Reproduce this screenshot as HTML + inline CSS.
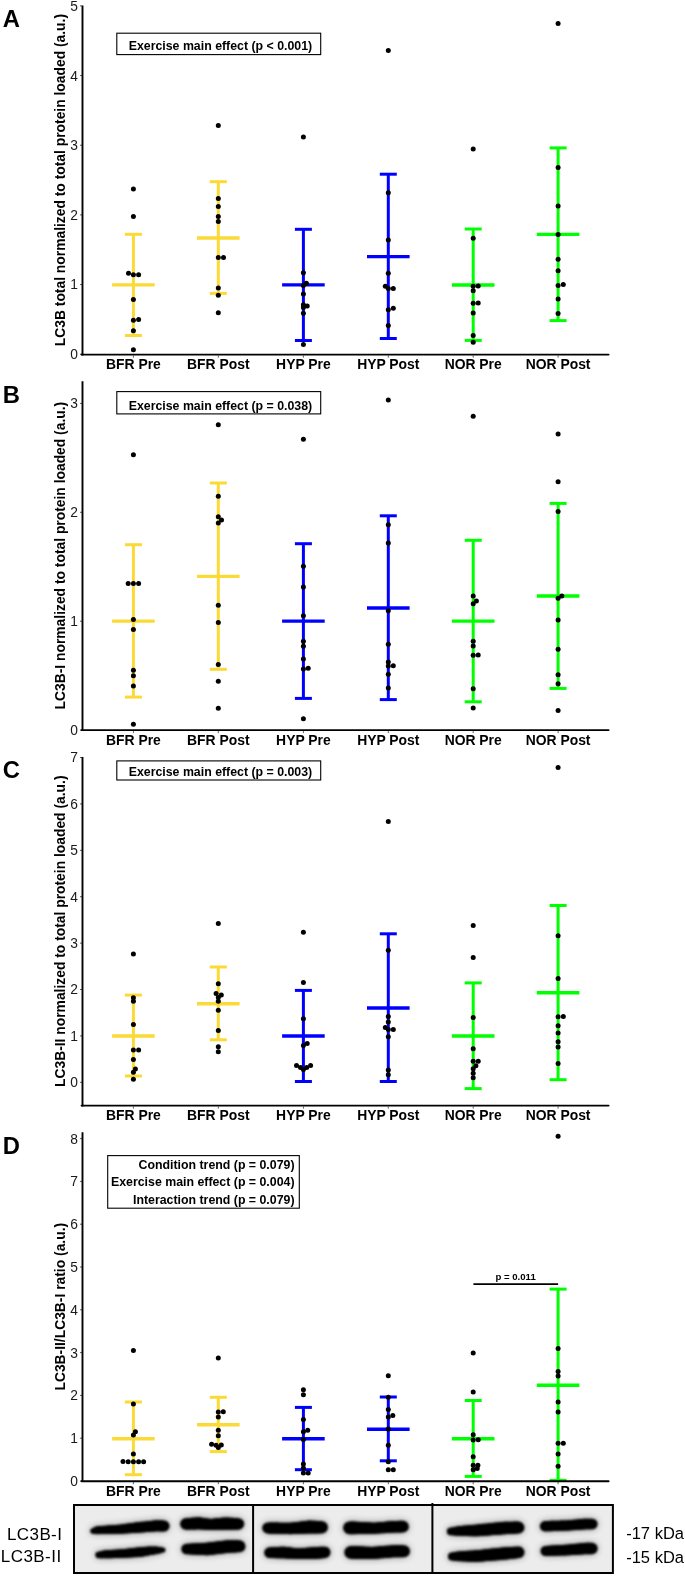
<!DOCTYPE html><html><head><meta charset="utf-8"><title>LC3B</title><style>html,body{margin:0;padding:0;background:#fff;}svg{display:block;will-change:transform;}text{font-family:"Liberation Sans",sans-serif;}</style></head><body>
<svg width="685" height="1579" viewBox="0 0 685 1579">
<defs><filter id="blur1" filterUnits="userSpaceOnUse" x="60" y="1495" width="570" height="84"><feGaussianBlur stdDeviation="0.9"/></filter><filter id="blur3" filterUnits="userSpaceOnUse" x="60" y="1495" width="570" height="84"><feGaussianBlur stdDeviation="3.5"/></filter></defs>
<rect width="685" height="1579" fill="#fff"/>
<text x="2.7" y="27.4" font-size="23.8" font-weight="bold" fill="#000">A</text>
<text transform="translate(64.8,180.1) rotate(-90)" text-anchor="middle" font-size="13.85" font-weight="bold" fill="#000">LC3B total normalized to total protein loaded (a.u.)</text>
<line x1="80.0" y1="354.2" x2="82" y2="354.2" stroke="#333" stroke-width="0.8"/>
<text x="77.9" y="359.15" text-anchor="end" font-size="13.8" fill="#1a1a1a">0</text>
<line x1="80.0" y1="284.54" x2="82" y2="284.54" stroke="#333" stroke-width="0.8"/>
<text x="77.9" y="289.49" text-anchor="end" font-size="13.8" fill="#1a1a1a">1</text>
<line x1="80.0" y1="214.88" x2="82" y2="214.88" stroke="#333" stroke-width="0.8"/>
<text x="77.9" y="219.83" text-anchor="end" font-size="13.8" fill="#1a1a1a">2</text>
<line x1="80.0" y1="145.22" x2="82" y2="145.22" stroke="#333" stroke-width="0.8"/>
<text x="77.9" y="150.17" text-anchor="end" font-size="13.8" fill="#1a1a1a">3</text>
<line x1="80.0" y1="75.56" x2="82" y2="75.56" stroke="#333" stroke-width="0.8"/>
<text x="77.9" y="80.51" text-anchor="end" font-size="13.8" fill="#1a1a1a">4</text>
<line x1="80.0" y1="5.9" x2="82" y2="5.9" stroke="#333" stroke-width="0.8"/>
<text x="77.9" y="10.85" text-anchor="end" font-size="13.8" fill="#1a1a1a">5</text>
<line x1="133.4" y1="355.6" x2="133.4" y2="357.6" stroke="#333" stroke-width="0.8"/>
<text x="133.4" y="369" text-anchor="middle" font-size="13.9" font-weight="bold" fill="#000">BFR Pre</text>
<line x1="218.3" y1="355.6" x2="218.3" y2="357.6" stroke="#333" stroke-width="0.8"/>
<text x="218.3" y="369" text-anchor="middle" font-size="13.9" font-weight="bold" fill="#000">BFR Post</text>
<line x1="303.4" y1="355.6" x2="303.4" y2="357.6" stroke="#333" stroke-width="0.8"/>
<text x="303.4" y="369" text-anchor="middle" font-size="13.9" font-weight="bold" fill="#000">HYP Pre</text>
<line x1="388.3" y1="355.6" x2="388.3" y2="357.6" stroke="#333" stroke-width="0.8"/>
<text x="388.3" y="369" text-anchor="middle" font-size="13.9" font-weight="bold" fill="#000">HYP Post</text>
<line x1="473.2" y1="355.6" x2="473.2" y2="357.6" stroke="#333" stroke-width="0.8"/>
<text x="473.2" y="369" text-anchor="middle" font-size="13.9" font-weight="bold" fill="#000">NOR Pre</text>
<line x1="558.1" y1="355.6" x2="558.1" y2="357.6" stroke="#333" stroke-width="0.8"/>
<text x="558.1" y="369" text-anchor="middle" font-size="13.9" font-weight="bold" fill="#000">NOR Post</text>
<rect x="116.8" y="33.2" width="203.9" height="21.4" fill="#fff" stroke="#000" stroke-width="1.1"/>
<text x="220.45" y="49.8" text-anchor="middle" font-size="12.35" font-weight="bold" fill="#000">Exercise main effect (p &lt; 0.001)</text>
<g stroke="#FBDA35" stroke-width="3" fill="none">
<line x1="133.4" y1="234.3" x2="133.4" y2="335.5"/>
<line x1="124.9" y1="234.3" x2="141.9" y2="234.3"/>
<line x1="124.9" y1="335.5" x2="141.9" y2="335.5"/>
<line x1="112.1" y1="284.9" x2="154.7" y2="284.9" stroke-width="3.4"/>
</g>
<g fill="#000">
<circle cx="133.4" cy="188.9" r="2.5"/>
<circle cx="133.4" cy="216.4" r="2.5"/>
<circle cx="128.5" cy="273.3" r="2.5"/>
<circle cx="133.4" cy="274.7" r="2.5"/>
<circle cx="138.6" cy="274.7" r="2.5"/>
<circle cx="133.4" cy="299.6" r="2.5"/>
<circle cx="133.4" cy="320.2" r="2.5"/>
<circle cx="138.6" cy="319.4" r="2.5"/>
<circle cx="133.4" cy="330.8" r="2.5"/>
<circle cx="133.4" cy="349.7" r="2.5"/>
</g>
<g stroke="#FBDA35" stroke-width="3" fill="none">
<line x1="218.3" y1="181.7" x2="218.3" y2="293.4"/>
<line x1="209.8" y1="181.7" x2="226.8" y2="181.7"/>
<line x1="209.8" y1="293.4" x2="226.8" y2="293.4"/>
<line x1="197" y1="238" x2="239.6" y2="238" stroke-width="3.4"/>
</g>
<g fill="#000">
<circle cx="218.3" cy="125.4" r="2.5"/>
<circle cx="218.3" cy="198.5" r="2.5"/>
<circle cx="218.3" cy="206.5" r="2.5"/>
<circle cx="218.3" cy="216.4" r="2.5"/>
<circle cx="218.3" cy="221.4" r="2.5"/>
<circle cx="218.3" cy="257.6" r="2.5"/>
<circle cx="223.5" cy="257.4" r="2.5"/>
<circle cx="218.3" cy="288.1" r="2.5"/>
<circle cx="218.3" cy="295.3" r="2.5"/>
<circle cx="218.3" cy="312.7" r="2.5"/>
</g>
<g stroke="#0000FF" stroke-width="3" fill="none">
<line x1="303.4" y1="229.3" x2="303.4" y2="340.5"/>
<line x1="294.9" y1="229.3" x2="311.9" y2="229.3"/>
<line x1="294.9" y1="340.5" x2="311.9" y2="340.5"/>
<line x1="282.1" y1="284.9" x2="324.7" y2="284.9" stroke-width="3.4"/>
</g>
<g fill="#000">
<circle cx="303.4" cy="137" r="2.5"/>
<circle cx="303.4" cy="272.8" r="2.5"/>
<circle cx="303.4" cy="285.4" r="2.5"/>
<circle cx="306.4" cy="283.2" r="2.5"/>
<circle cx="303.4" cy="294.1" r="2.5"/>
<circle cx="303.4" cy="304.8" r="2.5"/>
<circle cx="307.2" cy="306" r="2.5"/>
<circle cx="303.4" cy="313.2" r="2.5"/>
<circle cx="303.4" cy="344.5" r="2.5"/>
<circle cx="303.4" cy="307.5" r="2.5"/>
</g>
<g stroke="#0000FF" stroke-width="3" fill="none">
<line x1="388.3" y1="174.2" x2="388.3" y2="338.5"/>
<line x1="379.8" y1="174.2" x2="396.8" y2="174.2"/>
<line x1="379.8" y1="338.5" x2="396.8" y2="338.5"/>
<line x1="367" y1="256.6" x2="409.6" y2="256.6" stroke-width="3.4"/>
</g>
<g fill="#000">
<circle cx="388.3" cy="50.4" r="2.5"/>
<circle cx="388.3" cy="192.8" r="2.5"/>
<circle cx="388.3" cy="240" r="2.5"/>
<circle cx="388.3" cy="273.2" r="2.5"/>
<circle cx="385.3" cy="286.2" r="2.5"/>
<circle cx="388.3" cy="288.6" r="2.5"/>
<circle cx="393.3" cy="288.4" r="2.5"/>
<circle cx="388.3" cy="309.7" r="2.5"/>
<circle cx="393.3" cy="308.2" r="2.5"/>
<circle cx="388.3" cy="325.6" r="2.5"/>
</g>
<g stroke="#00FF00" stroke-width="3" fill="none">
<line x1="473.2" y1="229" x2="473.2" y2="340.4"/>
<line x1="464.7" y1="229" x2="481.7" y2="229"/>
<line x1="464.7" y1="340.4" x2="481.7" y2="340.4"/>
<line x1="451.9" y1="285" x2="494.5" y2="285" stroke-width="3.4"/>
</g>
<g fill="#000">
<circle cx="473.2" cy="148.9" r="2.5"/>
<circle cx="473.2" cy="238.2" r="2.5"/>
<circle cx="473.2" cy="286.3" r="2.5"/>
<circle cx="478.2" cy="286.1" r="2.5"/>
<circle cx="473.2" cy="290.8" r="2.5"/>
<circle cx="473.2" cy="303.2" r="2.5"/>
<circle cx="478.2" cy="303" r="2.5"/>
<circle cx="473.2" cy="312.9" r="2.5"/>
<circle cx="473.2" cy="335.5" r="2.5"/>
<circle cx="473.2" cy="342.2" r="2.5"/>
</g>
<g stroke="#00FF00" stroke-width="3" fill="none">
<line x1="558.1" y1="147.9" x2="558.1" y2="320.6"/>
<line x1="549.6" y1="147.9" x2="566.6" y2="147.9"/>
<line x1="549.6" y1="320.6" x2="566.6" y2="320.6"/>
<line x1="536.8" y1="234.4" x2="579.4" y2="234.4" stroke-width="3.4"/>
</g>
<g fill="#000">
<circle cx="558.1" cy="23.6" r="2.5"/>
<circle cx="558.1" cy="167.5" r="2.5"/>
<circle cx="558.1" cy="205.9" r="2.5"/>
<circle cx="558.1" cy="234.5" r="2.5"/>
<circle cx="558.1" cy="259.3" r="2.5"/>
<circle cx="558.1" cy="270.7" r="2.5"/>
<circle cx="558.1" cy="285.6" r="2.5"/>
<circle cx="563.3" cy="284.6" r="2.5"/>
<circle cx="558.1" cy="299" r="2.5"/>
<circle cx="558.1" cy="313.4" r="2.5"/>
</g>
<line x1="82.5" y1="5.6" x2="82.5" y2="355.5" stroke="#000" stroke-width="1.9"/>
<line x1="81.55" y1="354.6" x2="608.6" y2="354.6" stroke="#000" stroke-width="1.9" stroke-linecap="round"/>
<text x="2.7" y="402.6" font-size="23.8" font-weight="bold" fill="#000">B</text>
<text transform="translate(64.8,555.65) rotate(-90)" text-anchor="middle" font-size="13.85" font-weight="bold" fill="#000">LC3B-I normalized to total protein loaded (a.u.)</text>
<line x1="80.0" y1="730.1" x2="82" y2="730.1" stroke="#333" stroke-width="0.8"/>
<text x="77.9" y="735.05" text-anchor="end" font-size="13.8" fill="#1a1a1a">0</text>
<line x1="80.0" y1="621.2" x2="82" y2="621.2" stroke="#333" stroke-width="0.8"/>
<text x="77.9" y="626.15" text-anchor="end" font-size="13.8" fill="#1a1a1a">1</text>
<line x1="80.0" y1="512.3" x2="82" y2="512.3" stroke="#333" stroke-width="0.8"/>
<text x="77.9" y="517.25" text-anchor="end" font-size="13.8" fill="#1a1a1a">2</text>
<line x1="80.0" y1="403.4" x2="82" y2="403.4" stroke="#333" stroke-width="0.8"/>
<text x="77.9" y="408.35" text-anchor="end" font-size="13.8" fill="#1a1a1a">3</text>
<line x1="133.4" y1="731.1" x2="133.4" y2="733.1" stroke="#333" stroke-width="0.8"/>
<text x="133.4" y="744.5" text-anchor="middle" font-size="13.9" font-weight="bold" fill="#000">BFR Pre</text>
<line x1="218.3" y1="731.1" x2="218.3" y2="733.1" stroke="#333" stroke-width="0.8"/>
<text x="218.3" y="744.5" text-anchor="middle" font-size="13.9" font-weight="bold" fill="#000">BFR Post</text>
<line x1="303.4" y1="731.1" x2="303.4" y2="733.1" stroke="#333" stroke-width="0.8"/>
<text x="303.4" y="744.5" text-anchor="middle" font-size="13.9" font-weight="bold" fill="#000">HYP Pre</text>
<line x1="388.3" y1="731.1" x2="388.3" y2="733.1" stroke="#333" stroke-width="0.8"/>
<text x="388.3" y="744.5" text-anchor="middle" font-size="13.9" font-weight="bold" fill="#000">HYP Post</text>
<line x1="473.2" y1="731.1" x2="473.2" y2="733.1" stroke="#333" stroke-width="0.8"/>
<text x="473.2" y="744.5" text-anchor="middle" font-size="13.9" font-weight="bold" fill="#000">NOR Pre</text>
<line x1="558.1" y1="731.1" x2="558.1" y2="733.1" stroke="#333" stroke-width="0.8"/>
<text x="558.1" y="744.5" text-anchor="middle" font-size="13.9" font-weight="bold" fill="#000">NOR Post</text>
<rect x="116.8" y="391.6" width="203.9" height="22.3" fill="#fff" stroke="#000" stroke-width="1.1"/>
<text x="220.45" y="409.6" text-anchor="middle" font-size="12.35" font-weight="bold" fill="#000">Exercise main effect (p = 0.038)</text>
<g stroke="#FBDA35" stroke-width="3" fill="none">
<line x1="133.4" y1="544.7" x2="133.4" y2="697.1"/>
<line x1="124.9" y1="544.7" x2="141.9" y2="544.7"/>
<line x1="124.9" y1="697.1" x2="141.9" y2="697.1"/>
<line x1="112.1" y1="621.1" x2="154.7" y2="621.1" stroke-width="3.4"/>
</g>
<g fill="#000">
<circle cx="133.4" cy="454.7" r="2.5"/>
<circle cx="128.2" cy="583.4" r="2.5"/>
<circle cx="133.4" cy="583.4" r="2.5"/>
<circle cx="138.6" cy="583.4" r="2.5"/>
<circle cx="133.4" cy="619.4" r="2.5"/>
<circle cx="133.4" cy="629.6" r="2.5"/>
<circle cx="133.4" cy="670.3" r="2.5"/>
<circle cx="133.4" cy="675.8" r="2.5"/>
<circle cx="133.4" cy="686" r="2.5"/>
<circle cx="133.4" cy="724.2" r="2.5"/>
</g>
<g stroke="#FBDA35" stroke-width="3" fill="none">
<line x1="218.3" y1="483" x2="218.3" y2="669.3"/>
<line x1="209.8" y1="483" x2="226.8" y2="483"/>
<line x1="209.8" y1="669.3" x2="226.8" y2="669.3"/>
<line x1="197" y1="576.4" x2="239.6" y2="576.4" stroke-width="3.4"/>
</g>
<g fill="#000">
<circle cx="218.3" cy="424.7" r="2.5"/>
<circle cx="218.3" cy="496.2" r="2.5"/>
<circle cx="218.3" cy="516.8" r="2.5"/>
<circle cx="221.5" cy="520" r="2.5"/>
<circle cx="218.3" cy="523" r="2.5"/>
<circle cx="218.3" cy="605.3" r="2.5"/>
<circle cx="218.3" cy="622.4" r="2.5"/>
<circle cx="218.3" cy="664.6" r="2.5"/>
<circle cx="218.3" cy="681.2" r="2.5"/>
<circle cx="218.3" cy="708.3" r="2.5"/>
</g>
<g stroke="#0000FF" stroke-width="3" fill="none">
<line x1="303.4" y1="543.7" x2="303.4" y2="698.4"/>
<line x1="294.9" y1="543.7" x2="311.9" y2="543.7"/>
<line x1="294.9" y1="698.4" x2="311.9" y2="698.4"/>
<line x1="282.1" y1="621.1" x2="324.7" y2="621.1" stroke-width="3.4"/>
</g>
<g fill="#000">
<circle cx="303.4" cy="439.3" r="2.5"/>
<circle cx="303.4" cy="566.3" r="2.5"/>
<circle cx="303.4" cy="586.9" r="2.5"/>
<circle cx="303.4" cy="615.7" r="2.5"/>
<circle cx="303.4" cy="641.3" r="2.5"/>
<circle cx="303.4" cy="646.2" r="2.5"/>
<circle cx="303.4" cy="659.1" r="2.5"/>
<circle cx="303.4" cy="669.1" r="2.5"/>
<circle cx="308.2" cy="668.3" r="2.5"/>
<circle cx="303.4" cy="718.7" r="2.5"/>
</g>
<g stroke="#0000FF" stroke-width="3" fill="none">
<line x1="388.3" y1="515.8" x2="388.3" y2="699.6"/>
<line x1="379.8" y1="515.8" x2="396.8" y2="515.8"/>
<line x1="379.8" y1="699.6" x2="396.8" y2="699.6"/>
<line x1="367" y1="608" x2="409.6" y2="608" stroke-width="3.4"/>
</g>
<g fill="#000">
<circle cx="388.3" cy="400.1" r="2.5"/>
<circle cx="388.3" cy="524.7" r="2.5"/>
<circle cx="388.3" cy="543.1" r="2.5"/>
<circle cx="388.3" cy="610.7" r="2.5"/>
<circle cx="388.3" cy="644.2" r="2.5"/>
<circle cx="388.3" cy="662.1" r="2.5"/>
<circle cx="388.3" cy="666.1" r="2.5"/>
<circle cx="393.3" cy="665.8" r="2.5"/>
<circle cx="388.3" cy="674.3" r="2.5"/>
<circle cx="388.3" cy="687.9" r="2.5"/>
</g>
<g stroke="#00FF00" stroke-width="3" fill="none">
<line x1="473.2" y1="540.3" x2="473.2" y2="701.8"/>
<line x1="464.7" y1="540.3" x2="481.7" y2="540.3"/>
<line x1="464.7" y1="701.8" x2="481.7" y2="701.8"/>
<line x1="451.9" y1="621.1" x2="494.5" y2="621.1" stroke-width="3.4"/>
</g>
<g fill="#000">
<circle cx="473.2" cy="416.2" r="2.5"/>
<circle cx="473.2" cy="596.1" r="2.5"/>
<circle cx="473.2" cy="603.8" r="2.5"/>
<circle cx="476.4" cy="601.1" r="2.5"/>
<circle cx="473.2" cy="641.3" r="2.5"/>
<circle cx="473.2" cy="646" r="2.5"/>
<circle cx="473.2" cy="655.2" r="2.5"/>
<circle cx="478.2" cy="654.9" r="2.5"/>
<circle cx="473.2" cy="688.7" r="2.5"/>
<circle cx="473.2" cy="708" r="2.5"/>
</g>
<g stroke="#00FF00" stroke-width="3" fill="none">
<line x1="558.1" y1="503.4" x2="558.1" y2="688.4"/>
<line x1="549.6" y1="503.4" x2="566.6" y2="503.4"/>
<line x1="549.6" y1="688.4" x2="566.6" y2="688.4"/>
<line x1="536.8" y1="596" x2="579.4" y2="596" stroke-width="3.4"/>
</g>
<g fill="#000">
<circle cx="558.1" cy="433.9" r="2.5"/>
<circle cx="558.1" cy="481.8" r="2.5"/>
<circle cx="558.1" cy="511.5" r="2.5"/>
<circle cx="558.1" cy="598.3" r="2.5"/>
<circle cx="561.8" cy="596.1" r="2.5"/>
<circle cx="558.1" cy="619.9" r="2.5"/>
<circle cx="558.1" cy="649.2" r="2.5"/>
<circle cx="558.1" cy="674.8" r="2.5"/>
<circle cx="558.1" cy="683.7" r="2.5"/>
<circle cx="558.1" cy="710.5" r="2.5"/>
</g>
<line x1="82.5" y1="381.2" x2="82.5" y2="731" stroke="#000" stroke-width="1.9"/>
<line x1="81.55" y1="730.1" x2="608.6" y2="730.1" stroke="#000" stroke-width="1.9" stroke-linecap="round"/>
<text x="2.7" y="777.9" font-size="23.8" font-weight="bold" fill="#000">C</text>
<text transform="translate(64.8,931.25) rotate(-90)" text-anchor="middle" font-size="13.85" font-weight="bold" fill="#000">LC3B-II normalized to total protein loaded (a.u.)</text>
<line x1="80.0" y1="1082.3" x2="82" y2="1082.3" stroke="#333" stroke-width="0.8"/>
<text x="77.9" y="1087.25" text-anchor="end" font-size="13.8" fill="#1a1a1a">0</text>
<line x1="80.0" y1="1035.9" x2="82" y2="1035.9" stroke="#333" stroke-width="0.8"/>
<text x="77.9" y="1040.85" text-anchor="end" font-size="13.8" fill="#1a1a1a">1</text>
<line x1="80.0" y1="989.5" x2="82" y2="989.5" stroke="#333" stroke-width="0.8"/>
<text x="77.9" y="994.45" text-anchor="end" font-size="13.8" fill="#1a1a1a">2</text>
<line x1="80.0" y1="943.1" x2="82" y2="943.1" stroke="#333" stroke-width="0.8"/>
<text x="77.9" y="948.05" text-anchor="end" font-size="13.8" fill="#1a1a1a">3</text>
<line x1="80.0" y1="896.7" x2="82" y2="896.7" stroke="#333" stroke-width="0.8"/>
<text x="77.9" y="901.65" text-anchor="end" font-size="13.8" fill="#1a1a1a">4</text>
<line x1="80.0" y1="850.3" x2="82" y2="850.3" stroke="#333" stroke-width="0.8"/>
<text x="77.9" y="855.25" text-anchor="end" font-size="13.8" fill="#1a1a1a">5</text>
<line x1="80.0" y1="803.9" x2="82" y2="803.9" stroke="#333" stroke-width="0.8"/>
<text x="77.9" y="808.85" text-anchor="end" font-size="13.8" fill="#1a1a1a">6</text>
<line x1="80.0" y1="757.5" x2="82" y2="757.5" stroke="#333" stroke-width="0.8"/>
<text x="77.9" y="762.45" text-anchor="end" font-size="13.8" fill="#1a1a1a">7</text>
<line x1="133.4" y1="1106.6" x2="133.4" y2="1108.6" stroke="#333" stroke-width="0.8"/>
<text x="133.4" y="1120" text-anchor="middle" font-size="13.9" font-weight="bold" fill="#000">BFR Pre</text>
<line x1="218.3" y1="1106.6" x2="218.3" y2="1108.6" stroke="#333" stroke-width="0.8"/>
<text x="218.3" y="1120" text-anchor="middle" font-size="13.9" font-weight="bold" fill="#000">BFR Post</text>
<line x1="303.4" y1="1106.6" x2="303.4" y2="1108.6" stroke="#333" stroke-width="0.8"/>
<text x="303.4" y="1120" text-anchor="middle" font-size="13.9" font-weight="bold" fill="#000">HYP Pre</text>
<line x1="388.3" y1="1106.6" x2="388.3" y2="1108.6" stroke="#333" stroke-width="0.8"/>
<text x="388.3" y="1120" text-anchor="middle" font-size="13.9" font-weight="bold" fill="#000">HYP Post</text>
<line x1="473.2" y1="1106.6" x2="473.2" y2="1108.6" stroke="#333" stroke-width="0.8"/>
<text x="473.2" y="1120" text-anchor="middle" font-size="13.9" font-weight="bold" fill="#000">NOR Pre</text>
<line x1="558.1" y1="1106.6" x2="558.1" y2="1108.6" stroke="#333" stroke-width="0.8"/>
<text x="558.1" y="1120" text-anchor="middle" font-size="13.9" font-weight="bold" fill="#000">NOR Post</text>
<rect x="116.8" y="760.9" width="203.9" height="19.1" fill="#fff" stroke="#000" stroke-width="1.1"/>
<text x="220.45" y="775.9" text-anchor="middle" font-size="12.35" font-weight="bold" fill="#000">Exercise main effect (p = 0.003)</text>
<g stroke="#FBDA35" stroke-width="3" fill="none">
<line x1="133.4" y1="995.1" x2="133.4" y2="1076"/>
<line x1="124.9" y1="995.1" x2="141.9" y2="995.1"/>
<line x1="124.9" y1="1076" x2="141.9" y2="1076"/>
<line x1="112.1" y1="1036" x2="154.7" y2="1036" stroke-width="3.4"/>
</g>
<g fill="#000">
<circle cx="133.4" cy="954.1" r="2.5"/>
<circle cx="133.4" cy="997.8" r="2.5"/>
<circle cx="133.4" cy="1001.3" r="2.5"/>
<circle cx="133.4" cy="1024.4" r="2.5"/>
<circle cx="133.4" cy="1050" r="2.5"/>
<circle cx="138.6" cy="1050" r="2.5"/>
<circle cx="133.4" cy="1059.6" r="2.5"/>
<circle cx="135.4" cy="1069" r="2.5"/>
<circle cx="133.4" cy="1072.3" r="2.5"/>
<circle cx="133.4" cy="1079.2" r="2.5"/>
</g>
<g stroke="#FBDA35" stroke-width="3" fill="none">
<line x1="218.3" y1="967" x2="218.3" y2="1039.8"/>
<line x1="209.8" y1="967" x2="226.8" y2="967"/>
<line x1="209.8" y1="1039.8" x2="226.8" y2="1039.8"/>
<line x1="197" y1="1003.7" x2="239.6" y2="1003.7" stroke-width="3.4"/>
</g>
<g fill="#000">
<circle cx="218.3" cy="983.7" r="2.5"/>
<circle cx="218.3" cy="923.4" r="2.5"/>
<circle cx="216.1" cy="993.6" r="2.5"/>
<circle cx="221.3" cy="994.9" r="2.5"/>
<circle cx="218.3" cy="997.6" r="2.5"/>
<circle cx="218.3" cy="1001.3" r="2.5"/>
<circle cx="218.3" cy="1010.2" r="2.5"/>
<circle cx="218.3" cy="1030.6" r="2.5"/>
<circle cx="218.3" cy="1046.7" r="2.5"/>
<circle cx="218.3" cy="1051.7" r="2.5"/>
</g>
<g stroke="#0000FF" stroke-width="3" fill="none">
<line x1="303.4" y1="990.4" x2="303.4" y2="1081.5"/>
<line x1="294.9" y1="990.4" x2="311.9" y2="990.4"/>
<line x1="294.9" y1="1081.5" x2="311.9" y2="1081.5"/>
<line x1="282.1" y1="1036" x2="324.7" y2="1036" stroke-width="3.4"/>
</g>
<g fill="#000">
<circle cx="303.4" cy="932.3" r="2.5"/>
<circle cx="303.4" cy="982.4" r="2.5"/>
<circle cx="303.4" cy="1018.7" r="2.5"/>
<circle cx="303.4" cy="1045.5" r="2.5"/>
<circle cx="307.2" cy="1043.5" r="2.5"/>
<circle cx="296.5" cy="1065.6" r="2.5"/>
<circle cx="300.5" cy="1067.6" r="2.5"/>
<circle cx="303.4" cy="1069.6" r="2.5"/>
<circle cx="306.7" cy="1067.6" r="2.5"/>
<circle cx="310.6" cy="1065.6" r="2.5"/>
</g>
<g stroke="#0000FF" stroke-width="3" fill="none">
<line x1="388.3" y1="933.8" x2="388.3" y2="1081.5"/>
<line x1="379.8" y1="933.8" x2="396.8" y2="933.8"/>
<line x1="379.8" y1="1081.5" x2="396.8" y2="1081.5"/>
<line x1="367" y1="1008" x2="409.6" y2="1008" stroke-width="3.4"/>
</g>
<g fill="#000">
<circle cx="388.3" cy="821.4" r="2.5"/>
<circle cx="388.3" cy="950.2" r="2.5"/>
<circle cx="388.3" cy="1016.4" r="2.5"/>
<circle cx="388.3" cy="1021.9" r="2.5"/>
<circle cx="385.3" cy="1027.6" r="2.5"/>
<circle cx="388.3" cy="1029.4" r="2.5"/>
<circle cx="393.3" cy="1029.4" r="2.5"/>
<circle cx="388.3" cy="1036.8" r="2.5"/>
<circle cx="388.3" cy="1070" r="2.5"/>
<circle cx="388.3" cy="1074.8" r="2.5"/>
</g>
<g stroke="#00FF00" stroke-width="3" fill="none">
<line x1="473.2" y1="982.9" x2="473.2" y2="1088.6"/>
<line x1="464.7" y1="982.9" x2="481.7" y2="982.9"/>
<line x1="464.7" y1="1088.6" x2="481.7" y2="1088.6"/>
<line x1="451.9" y1="1036" x2="494.5" y2="1036" stroke-width="3.4"/>
</g>
<g fill="#000">
<circle cx="473.2" cy="925.6" r="2.5"/>
<circle cx="473.2" cy="957.6" r="2.5"/>
<circle cx="473.2" cy="1017.6" r="2.5"/>
<circle cx="473.2" cy="1048.7" r="2.5"/>
<circle cx="473.2" cy="1061.3" r="2.5"/>
<circle cx="478.2" cy="1061.3" r="2.5"/>
<circle cx="475.9" cy="1065.8" r="2.5"/>
<circle cx="473.2" cy="1068.8" r="2.5"/>
<circle cx="473.2" cy="1073.2" r="2.5"/>
<circle cx="473.2" cy="1077.7" r="2.5"/>
</g>
<g stroke="#00FF00" stroke-width="3" fill="none">
<line x1="558.1" y1="905.5" x2="558.1" y2="1079.7"/>
<line x1="549.6" y1="905.5" x2="566.6" y2="905.5"/>
<line x1="549.6" y1="1079.7" x2="566.6" y2="1079.7"/>
<line x1="536.8" y1="992.8" x2="579.4" y2="992.8" stroke-width="3.4"/>
</g>
<g fill="#000">
<circle cx="558.1" cy="767.5" r="2.5"/>
<circle cx="558.1" cy="935.7" r="2.5"/>
<circle cx="558.1" cy="978.4" r="2.5"/>
<circle cx="558.1" cy="1016.7" r="2.5"/>
<circle cx="563.3" cy="1016.4" r="2.5"/>
<circle cx="558.1" cy="1025.8" r="2.5"/>
<circle cx="558.1" cy="1033" r="2.5"/>
<circle cx="558.1" cy="1041.7" r="2.5"/>
<circle cx="558.1" cy="1046.9" r="2.5"/>
<circle cx="558.1" cy="1063.6" r="2.5"/>
</g>
<line x1="82.5" y1="756.9" x2="82.5" y2="1106.5" stroke="#000" stroke-width="1.9"/>
<line x1="81.55" y1="1105.6" x2="608.6" y2="1105.6" stroke="#000" stroke-width="1.9" stroke-linecap="round"/>
<text x="2.7" y="1153.8" font-size="23.8" font-weight="bold" fill="#000">D</text>
<text transform="translate(64.8,1306.75) rotate(-90)" text-anchor="middle" font-size="13.85" font-weight="bold" fill="#000">LC3B-II/LC3B-I ratio (a.u.)</text>
<line x1="80.0" y1="1481" x2="82" y2="1481" stroke="#333" stroke-width="0.8"/>
<text x="77.9" y="1485.95" text-anchor="end" font-size="13.8" fill="#1a1a1a">0</text>
<line x1="80.0" y1="1438.2" x2="82" y2="1438.2" stroke="#333" stroke-width="0.8"/>
<text x="77.9" y="1443.15" text-anchor="end" font-size="13.8" fill="#1a1a1a">1</text>
<line x1="80.0" y1="1395.4" x2="82" y2="1395.4" stroke="#333" stroke-width="0.8"/>
<text x="77.9" y="1400.35" text-anchor="end" font-size="13.8" fill="#1a1a1a">2</text>
<line x1="80.0" y1="1352.6" x2="82" y2="1352.6" stroke="#333" stroke-width="0.8"/>
<text x="77.9" y="1357.55" text-anchor="end" font-size="13.8" fill="#1a1a1a">3</text>
<line x1="80.0" y1="1309.8" x2="82" y2="1309.8" stroke="#333" stroke-width="0.8"/>
<text x="77.9" y="1314.75" text-anchor="end" font-size="13.8" fill="#1a1a1a">4</text>
<line x1="80.0" y1="1267" x2="82" y2="1267" stroke="#333" stroke-width="0.8"/>
<text x="77.9" y="1271.95" text-anchor="end" font-size="13.8" fill="#1a1a1a">5</text>
<line x1="80.0" y1="1224.2" x2="82" y2="1224.2" stroke="#333" stroke-width="0.8"/>
<text x="77.9" y="1229.15" text-anchor="end" font-size="13.8" fill="#1a1a1a">6</text>
<line x1="80.0" y1="1181.4" x2="82" y2="1181.4" stroke="#333" stroke-width="0.8"/>
<text x="77.9" y="1186.35" text-anchor="end" font-size="13.8" fill="#1a1a1a">7</text>
<line x1="80.0" y1="1138.6" x2="82" y2="1138.6" stroke="#333" stroke-width="0.8"/>
<text x="77.9" y="1143.55" text-anchor="end" font-size="13.8" fill="#1a1a1a">8</text>
<line x1="133.4" y1="1482.2" x2="133.4" y2="1484.2" stroke="#333" stroke-width="0.8"/>
<text x="133.4" y="1495.6" text-anchor="middle" font-size="13.9" font-weight="bold" fill="#000">BFR Pre</text>
<line x1="218.3" y1="1482.2" x2="218.3" y2="1484.2" stroke="#333" stroke-width="0.8"/>
<text x="218.3" y="1495.6" text-anchor="middle" font-size="13.9" font-weight="bold" fill="#000">BFR Post</text>
<line x1="303.4" y1="1482.2" x2="303.4" y2="1484.2" stroke="#333" stroke-width="0.8"/>
<text x="303.4" y="1495.6" text-anchor="middle" font-size="13.9" font-weight="bold" fill="#000">HYP Pre</text>
<line x1="388.3" y1="1482.2" x2="388.3" y2="1484.2" stroke="#333" stroke-width="0.8"/>
<text x="388.3" y="1495.6" text-anchor="middle" font-size="13.9" font-weight="bold" fill="#000">HYP Post</text>
<line x1="473.2" y1="1482.2" x2="473.2" y2="1484.2" stroke="#333" stroke-width="0.8"/>
<text x="473.2" y="1495.6" text-anchor="middle" font-size="13.9" font-weight="bold" fill="#000">NOR Pre</text>
<line x1="558.1" y1="1482.2" x2="558.1" y2="1484.2" stroke="#333" stroke-width="0.8"/>
<text x="558.1" y="1495.6" text-anchor="middle" font-size="13.9" font-weight="bold" fill="#000">NOR Post</text>
<rect x="107.7" y="1155.6" width="191.6" height="52.6" fill="#fff" stroke="#000" stroke-width="1.1"/>
<text x="294.5" y="1168.9" text-anchor="end" font-size="12.35" font-weight="bold" fill="#000">Condition trend (p = 0.079)</text>
<text x="294.5" y="1186.2" text-anchor="end" font-size="12.35" font-weight="bold" fill="#000">Exercise main effect (p = 0.004)</text>
<text x="294.5" y="1203.5" text-anchor="end" font-size="12.35" font-weight="bold" fill="#000">Interaction trend (p = 0.079)</text>
<g stroke="#FBDA35" stroke-width="3" fill="none">
<line x1="133.4" y1="1402" x2="133.4" y2="1474.7"/>
<line x1="124.9" y1="1402" x2="141.9" y2="1402"/>
<line x1="124.9" y1="1474.7" x2="141.9" y2="1474.7"/>
<line x1="112.1" y1="1438.7" x2="154.7" y2="1438.7" stroke-width="3.4"/>
</g>
<g fill="#000">
<circle cx="133.4" cy="1350.4" r="2.5"/>
<circle cx="133.4" cy="1404" r="2.5"/>
<circle cx="135.4" cy="1431.8" r="2.5"/>
<circle cx="133.4" cy="1435" r="2.5"/>
<circle cx="133.4" cy="1454.1" r="2.5"/>
<circle cx="123" cy="1461.5" r="2.5"/>
<circle cx="128.2" cy="1461.8" r="2.5"/>
<circle cx="133.4" cy="1461.8" r="2.5"/>
<circle cx="138.6" cy="1461.8" r="2.5"/>
<circle cx="143.6" cy="1461.8" r="2.5"/>
</g>
<g stroke="#FBDA35" stroke-width="3" fill="none">
<line x1="218.3" y1="1397.3" x2="218.3" y2="1451.6"/>
<line x1="209.8" y1="1397.3" x2="226.8" y2="1397.3"/>
<line x1="209.8" y1="1451.6" x2="226.8" y2="1451.6"/>
<line x1="197" y1="1424.8" x2="239.6" y2="1424.8" stroke-width="3.4"/>
</g>
<g fill="#000">
<circle cx="218.3" cy="1358" r="2.5"/>
<circle cx="218.3" cy="1411.9" r="2.5"/>
<circle cx="223.3" cy="1411.7" r="2.5"/>
<circle cx="218.3" cy="1417.1" r="2.5"/>
<circle cx="218.3" cy="1430.3" r="2.5"/>
<circle cx="218.3" cy="1435.7" r="2.5"/>
<circle cx="211.6" cy="1444.2" r="2.5"/>
<circle cx="216.1" cy="1445.2" r="2.5"/>
<circle cx="218.3" cy="1447.4" r="2.5"/>
<circle cx="221.3" cy="1444.9" r="2.5"/>
</g>
<g stroke="#0000FF" stroke-width="3" fill="none">
<line x1="303.4" y1="1407.4" x2="303.4" y2="1469.7"/>
<line x1="294.9" y1="1407.4" x2="311.9" y2="1407.4"/>
<line x1="294.9" y1="1469.7" x2="311.9" y2="1469.7"/>
<line x1="282.1" y1="1438.7" x2="324.7" y2="1438.7" stroke-width="3.4"/>
</g>
<g fill="#000">
<circle cx="303.4" cy="1389.8" r="2.5"/>
<circle cx="303.4" cy="1394.8" r="2.5"/>
<circle cx="303.4" cy="1419.6" r="2.5"/>
<circle cx="303.4" cy="1431.8" r="2.5"/>
<circle cx="307.7" cy="1430.3" r="2.5"/>
<circle cx="303.4" cy="1439.5" r="2.5"/>
<circle cx="303.4" cy="1464" r="2.5"/>
<circle cx="303.4" cy="1473" r="2.5"/>
<circle cx="308.2" cy="1473" r="2.5"/>
<circle cx="303.4" cy="1468" r="2.5"/>
</g>
<g stroke="#0000FF" stroke-width="3" fill="none">
<line x1="388.3" y1="1397" x2="388.3" y2="1460.8"/>
<line x1="379.8" y1="1397" x2="396.8" y2="1397"/>
<line x1="379.8" y1="1460.8" x2="396.8" y2="1460.8"/>
<line x1="367" y1="1429.2" x2="409.6" y2="1429.2" stroke-width="3.4"/>
</g>
<g fill="#000">
<circle cx="388.3" cy="1375.7" r="2.5"/>
<circle cx="388.3" cy="1397.3" r="2.5"/>
<circle cx="388.3" cy="1409.4" r="2.5"/>
<circle cx="388.3" cy="1416.9" r="2.5"/>
<circle cx="392.8" cy="1415.6" r="2.5"/>
<circle cx="388.3" cy="1429" r="2.5"/>
<circle cx="388.3" cy="1445.2" r="2.5"/>
<circle cx="388.3" cy="1461.8" r="2.5"/>
<circle cx="388.3" cy="1469.7" r="2.5"/>
<circle cx="393.3" cy="1469.7" r="2.5"/>
</g>
<g stroke="#00FF00" stroke-width="3" fill="none">
<line x1="473.2" y1="1400.5" x2="473.2" y2="1476.4"/>
<line x1="464.7" y1="1400.5" x2="481.7" y2="1400.5"/>
<line x1="464.7" y1="1476.4" x2="481.7" y2="1476.4"/>
<line x1="451.9" y1="1438.7" x2="494.5" y2="1438.7" stroke-width="3.4"/>
</g>
<g fill="#000">
<circle cx="473.2" cy="1353.1" r="2.5"/>
<circle cx="473.2" cy="1392" r="2.5"/>
<circle cx="473.2" cy="1434.7" r="2.5"/>
<circle cx="473.2" cy="1440" r="2.5"/>
<circle cx="478.2" cy="1439.7" r="2.5"/>
<circle cx="473.2" cy="1456.8" r="2.5"/>
<circle cx="473.2" cy="1465.3" r="2.5"/>
<circle cx="477.9" cy="1465.3" r="2.5"/>
<circle cx="477.2" cy="1468.5" r="2.5"/>
<circle cx="473.2" cy="1469.7" r="2.5"/>
</g>
<g stroke="#00FF00" stroke-width="3" fill="none">
<line x1="558.1" y1="1289.1" x2="558.1" y2="1480.4"/>
<line x1="549.6" y1="1289.1" x2="566.6" y2="1289.1"/>
<line x1="549.6" y1="1480.4" x2="566.6" y2="1480.4"/>
<line x1="536.8" y1="1385.3" x2="579.4" y2="1385.3" stroke-width="3.4"/>
</g>
<g fill="#000">
<circle cx="558.1" cy="1136.2" r="2.5"/>
<circle cx="558.1" cy="1348.6" r="2.5"/>
<circle cx="558.1" cy="1371.4" r="2.5"/>
<circle cx="558.1" cy="1375.9" r="2.5"/>
<circle cx="558.1" cy="1402" r="2.5"/>
<circle cx="558.1" cy="1411.9" r="2.5"/>
<circle cx="558.1" cy="1443.2" r="2.5"/>
<circle cx="563.3" cy="1443.2" r="2.5"/>
<circle cx="558.1" cy="1454.1" r="2.5"/>
<circle cx="558.1" cy="1466.3" r="2.5"/>
</g>
<line x1="82.5" y1="1132.3" x2="82.5" y2="1482.1" stroke="#000" stroke-width="1.9"/>
<line x1="81.55" y1="1481.2" x2="608.6" y2="1481.2" stroke="#000" stroke-width="1.9" stroke-linecap="round"/>
<line x1="473.4" y1="1284.1" x2="558.1" y2="1284.1" stroke="#000" stroke-width="1.8"/>
<text x="515.6" y="1280" text-anchor="middle" font-size="9.6" font-weight="bold" fill="#000">p = 0.011</text>
<g id="blot">
<rect x="74" y="1505" width="538.9" height="68" fill="#ececec" stroke="none"/>
<g stroke="#000" stroke-linecap="round" opacity="0.4" filter="url(#blur3)"><line x1="92.8" y1="1531" x2="95.15" y2="1530.6" stroke-width="5.25"/><line x1="95.15" y1="1530.6" x2="97.5" y2="1530.2" stroke-width="6.95"/><line x1="97.5" y1="1530.2" x2="99.55" y2="1530.11" stroke-width="7.86"/><line x1="99.55" y1="1530.11" x2="101.59" y2="1530.02" stroke-width="7.98"/><line x1="101.59" y1="1530.02" x2="103.64" y2="1529.93" stroke-width="8.1"/><line x1="103.64" y1="1529.93" x2="105.68" y2="1529.84" stroke-width="8.21"/><line x1="105.68" y1="1529.84" x2="107.73" y2="1529.75" stroke-width="8.33"/><line x1="107.73" y1="1529.75" x2="109.77" y2="1529.65" stroke-width="8.45"/><line x1="109.77" y1="1529.65" x2="111.82" y2="1529.56" stroke-width="8.57"/><line x1="111.82" y1="1529.56" x2="113.86" y2="1529.47" stroke-width="8.69"/><line x1="113.86" y1="1529.47" x2="115.91" y2="1529.38" stroke-width="8.8"/><line x1="115.91" y1="1529.38" x2="117.95" y2="1529.29" stroke-width="8.92"/><line x1="117.95" y1="1529.29" x2="120" y2="1529.2" stroke-width="9.04"/><line x1="120" y1="1529.2" x2="122" y2="1529.01" stroke-width="9.17"/><line x1="122" y1="1529.01" x2="124" y2="1528.82" stroke-width="9.31"/><line x1="124" y1="1528.82" x2="126" y2="1528.63" stroke-width="9.45"/><line x1="126" y1="1528.63" x2="128" y2="1528.44" stroke-width="9.59"/><line x1="128" y1="1528.44" x2="130" y2="1528.25" stroke-width="9.73"/><line x1="130" y1="1528.25" x2="132" y2="1528.06" stroke-width="9.87"/><line x1="132" y1="1528.06" x2="134" y2="1527.87" stroke-width="10.01"/><line x1="134" y1="1527.87" x2="136" y2="1527.68" stroke-width="10.15"/><line x1="136" y1="1527.68" x2="138" y2="1527.49" stroke-width="10.29"/><line x1="138" y1="1527.49" x2="140" y2="1527.3" stroke-width="10.43"/><line x1="140" y1="1527.3" x2="142.1" y2="1527.11" stroke-width="10.53"/><line x1="142.1" y1="1527.11" x2="144.2" y2="1526.92" stroke-width="10.58"/><line x1="144.2" y1="1526.92" x2="146.3" y2="1526.74" stroke-width="10.62"/><line x1="146.3" y1="1526.74" x2="148.4" y2="1526.55" stroke-width="10.68"/><line x1="148.4" y1="1526.55" x2="150.5" y2="1526.36" stroke-width="10.72"/><line x1="150.5" y1="1526.36" x2="152.6" y2="1526.17" stroke-width="10.78"/><line x1="152.6" y1="1526.17" x2="154.7" y2="1525.99" stroke-width="10.83"/><line x1="154.7" y1="1525.99" x2="156.8" y2="1525.8" stroke-width="10.88"/><line x1="156.8" y1="1525.8" x2="159.2" y2="1525.87" stroke-width="10.95"/><line x1="159.2" y1="1525.87" x2="161.6" y2="1525.93" stroke-width="11.05"/><line x1="161.6" y1="1525.93" x2="164" y2="1526" stroke-width="11.15"/><line x1="98.5" y1="1555" x2="101.35" y2="1554.7" stroke-width="6.4"/><line x1="101.35" y1="1554.7" x2="104.2" y2="1554.4" stroke-width="7.4"/><line x1="104.2" y1="1554.4" x2="106.28" y2="1554.3" stroke-width="7.94"/><line x1="106.28" y1="1554.3" x2="108.36" y2="1554.2" stroke-width="8.02"/><line x1="108.36" y1="1554.2" x2="110.44" y2="1554.1" stroke-width="8.1"/><line x1="110.44" y1="1554.1" x2="112.52" y2="1554" stroke-width="8.18"/><line x1="112.52" y1="1554" x2="114.6" y2="1553.9" stroke-width="8.26"/><line x1="114.6" y1="1553.9" x2="116.68" y2="1553.8" stroke-width="8.34"/><line x1="116.68" y1="1553.8" x2="118.76" y2="1553.7" stroke-width="8.42"/><line x1="118.76" y1="1553.7" x2="120.84" y2="1553.6" stroke-width="8.5"/><line x1="120.84" y1="1553.6" x2="122.92" y2="1553.5" stroke-width="8.58"/><line x1="122.92" y1="1553.5" x2="125" y2="1553.4" stroke-width="8.66"/><line x1="125" y1="1553.4" x2="127.14" y2="1553.21" stroke-width="8.76"/><line x1="127.14" y1="1553.21" x2="129.29" y2="1553.03" stroke-width="8.89"/><line x1="129.29" y1="1553.03" x2="131.43" y2="1552.84" stroke-width="9.02"/><line x1="131.43" y1="1552.84" x2="133.57" y2="1552.66" stroke-width="9.15"/><line x1="133.57" y1="1552.66" x2="135.71" y2="1552.47" stroke-width="9.28"/><line x1="135.71" y1="1552.47" x2="137.86" y2="1552.29" stroke-width="9.41"/><line x1="137.86" y1="1552.29" x2="140" y2="1552.1" stroke-width="9.54"/><line x1="140" y1="1552.1" x2="142" y2="1551.84" stroke-width="9.5"/><line x1="142" y1="1551.84" x2="144" y2="1551.58" stroke-width="9.3"/><line x1="144" y1="1551.58" x2="146" y2="1551.32" stroke-width="9.1"/><line x1="146" y1="1551.32" x2="148" y2="1551.06" stroke-width="8.9"/><line x1="148" y1="1551.06" x2="150" y2="1550.8" stroke-width="8.7"/><line x1="150" y1="1550.8" x2="152" y2="1550.65" stroke-width="8.39"/><line x1="152" y1="1550.65" x2="154" y2="1550.5" stroke-width="7.96"/><line x1="154" y1="1550.5" x2="156" y2="1550.35" stroke-width="7.54"/><line x1="156" y1="1550.35" x2="158" y2="1550.2" stroke-width="7.11"/><line x1="158" y1="1550.2" x2="160.5" y2="1550.05" stroke-width="6.28"/><line x1="160.5" y1="1550.05" x2="163" y2="1549.9" stroke-width="5.03"/><line x1="185.8" y1="1524" x2="187.92" y2="1523.88" stroke-width="11.45"/><line x1="187.92" y1="1523.88" x2="190.03" y2="1523.77" stroke-width="11.55"/><line x1="190.03" y1="1523.77" x2="192.15" y2="1523.65" stroke-width="11.65"/><line x1="192.15" y1="1523.65" x2="194.27" y2="1523.53" stroke-width="11.75"/><line x1="194.27" y1="1523.53" x2="196.38" y2="1523.42" stroke-width="11.85"/><line x1="196.38" y1="1523.42" x2="198.5" y2="1523.3" stroke-width="11.95"/><line x1="198.5" y1="1523.3" x2="200.58" y2="1523.5" stroke-width="11.92"/><line x1="200.58" y1="1523.5" x2="202.67" y2="1523.7" stroke-width="11.75"/><line x1="202.67" y1="1523.7" x2="204.75" y2="1523.9" stroke-width="11.58"/><line x1="204.75" y1="1523.9" x2="206.83" y2="1524.1" stroke-width="11.42"/><line x1="206.83" y1="1524.1" x2="208.92" y2="1524.3" stroke-width="11.25"/><line x1="208.92" y1="1524.3" x2="211" y2="1524.5" stroke-width="11.08"/><line x1="211" y1="1524.5" x2="213.11" y2="1524.37" stroke-width="11.1"/><line x1="213.11" y1="1524.37" x2="215.23" y2="1524.24" stroke-width="11.3"/><line x1="215.23" y1="1524.24" x2="217.34" y2="1524.11" stroke-width="11.5"/><line x1="217.34" y1="1524.11" x2="219.46" y2="1523.99" stroke-width="11.7"/><line x1="219.46" y1="1523.99" x2="221.57" y2="1523.86" stroke-width="11.9"/><line x1="221.57" y1="1523.86" x2="223.69" y2="1523.73" stroke-width="12.1"/><line x1="223.69" y1="1523.73" x2="225.8" y2="1523.6" stroke-width="12.3"/><line x1="225.8" y1="1523.6" x2="227.92" y2="1523.65" stroke-width="12.32"/><line x1="227.92" y1="1523.65" x2="230.03" y2="1523.7" stroke-width="12.15"/><line x1="230.03" y1="1523.7" x2="232.15" y2="1523.75" stroke-width="11.98"/><line x1="232.15" y1="1523.75" x2="234.27" y2="1523.8" stroke-width="11.82"/><line x1="234.27" y1="1523.8" x2="236.38" y2="1523.85" stroke-width="11.65"/><line x1="236.38" y1="1523.85" x2="238.5" y2="1523.9" stroke-width="11.48"/><line x1="186.5" y1="1549" x2="188.57" y2="1549" stroke-width="10.5"/><line x1="188.57" y1="1549" x2="190.64" y2="1549" stroke-width="10.7"/><line x1="190.64" y1="1549" x2="192.71" y2="1549" stroke-width="10.9"/><line x1="192.71" y1="1549" x2="194.78" y2="1549" stroke-width="11.1"/><line x1="194.78" y1="1549" x2="196.85" y2="1549" stroke-width="11.3"/><line x1="196.85" y1="1549" x2="198.92" y2="1549" stroke-width="11.5"/><line x1="198.92" y1="1549" x2="200.99" y2="1549" stroke-width="11.7"/><line x1="200.99" y1="1549" x2="203.06" y2="1549" stroke-width="11.9"/><line x1="203.06" y1="1549" x2="205.13" y2="1549" stroke-width="12.1"/><line x1="205.13" y1="1549" x2="207.2" y2="1549" stroke-width="12.3"/><line x1="207.2" y1="1549" x2="209.31" y2="1548.75" stroke-width="12.4"/><line x1="209.31" y1="1548.75" x2="211.42" y2="1548.5" stroke-width="12.4"/><line x1="211.42" y1="1548.5" x2="213.53" y2="1548.25" stroke-width="12.4"/><line x1="213.53" y1="1548.25" x2="215.64" y2="1548" stroke-width="12.4"/><line x1="215.64" y1="1548" x2="217.75" y2="1547.75" stroke-width="12.4"/><line x1="217.75" y1="1547.75" x2="219.86" y2="1547.5" stroke-width="12.4"/><line x1="219.86" y1="1547.5" x2="221.97" y2="1547.25" stroke-width="12.4"/><line x1="221.97" y1="1547.25" x2="224.08" y2="1547" stroke-width="12.4"/><line x1="224.08" y1="1547" x2="226.19" y2="1546.75" stroke-width="12.4"/><line x1="226.19" y1="1546.75" x2="228.3" y2="1546.5" stroke-width="12.4"/><line x1="228.3" y1="1546.5" x2="230.54" y2="1546.46" stroke-width="12.35"/><line x1="230.54" y1="1546.46" x2="232.78" y2="1546.42" stroke-width="12.25"/><line x1="232.78" y1="1546.42" x2="235.02" y2="1546.38" stroke-width="12.15"/><line x1="235.02" y1="1546.38" x2="237.26" y2="1546.34" stroke-width="12.05"/><line x1="237.26" y1="1546.34" x2="239.5" y2="1546.3" stroke-width="11.95"/><line x1="267.8" y1="1528" x2="269.84" y2="1528.05" stroke-width="11.2"/><line x1="269.84" y1="1528.05" x2="271.87" y2="1528.09" stroke-width="11.21"/><line x1="271.87" y1="1528.09" x2="273.91" y2="1528.14" stroke-width="11.22"/><line x1="273.91" y1="1528.14" x2="275.95" y2="1528.18" stroke-width="11.23"/><line x1="275.95" y1="1528.18" x2="277.98" y2="1528.23" stroke-width="11.24"/><line x1="277.98" y1="1528.23" x2="280.02" y2="1528.27" stroke-width="11.25"/><line x1="280.02" y1="1528.27" x2="282.05" y2="1528.32" stroke-width="11.26"/><line x1="282.05" y1="1528.32" x2="284.09" y2="1528.36" stroke-width="11.27"/><line x1="284.09" y1="1528.36" x2="286.13" y2="1528.41" stroke-width="11.28"/><line x1="286.13" y1="1528.41" x2="288.16" y2="1528.45" stroke-width="11.29"/><line x1="288.16" y1="1528.45" x2="290.2" y2="1528.5" stroke-width="11.3"/><line x1="290.2" y1="1528.5" x2="292.4" y2="1528.33" stroke-width="11.39"/><line x1="292.4" y1="1528.33" x2="294.6" y2="1528.17" stroke-width="11.57"/><line x1="294.6" y1="1528.17" x2="296.8" y2="1528" stroke-width="11.74"/><line x1="296.8" y1="1528" x2="299" y2="1527.83" stroke-width="11.92"/><line x1="299" y1="1527.83" x2="301.2" y2="1527.67" stroke-width="12.1"/><line x1="301.2" y1="1527.67" x2="303.4" y2="1527.5" stroke-width="12.28"/><line x1="303.4" y1="1527.5" x2="305.6" y2="1527.33" stroke-width="12.46"/><line x1="305.6" y1="1527.33" x2="307.8" y2="1527.17" stroke-width="12.63"/><line x1="307.8" y1="1527.17" x2="310" y2="1527" stroke-width="12.81"/><line x1="310" y1="1527" x2="312.36" y2="1527.06" stroke-width="12.83"/><line x1="312.36" y1="1527.06" x2="314.72" y2="1527.12" stroke-width="12.69"/><line x1="314.72" y1="1527.12" x2="317.08" y2="1527.18" stroke-width="12.55"/><line x1="317.08" y1="1527.18" x2="319.44" y2="1527.24" stroke-width="12.41"/><line x1="319.44" y1="1527.24" x2="321.8" y2="1527.3" stroke-width="12.27"/><line x1="269.5" y1="1552.7" x2="271.57" y2="1552.67" stroke-width="10.69"/><line x1="271.57" y1="1552.67" x2="273.64" y2="1552.64" stroke-width="10.86"/><line x1="273.64" y1="1552.64" x2="275.71" y2="1552.61" stroke-width="11.03"/><line x1="275.71" y1="1552.61" x2="277.79" y2="1552.59" stroke-width="11.2"/><line x1="277.79" y1="1552.59" x2="279.86" y2="1552.56" stroke-width="11.37"/><line x1="279.86" y1="1552.56" x2="281.93" y2="1552.53" stroke-width="11.54"/><line x1="281.93" y1="1552.53" x2="284" y2="1552.5" stroke-width="11.71"/><line x1="284" y1="1552.5" x2="286.28" y2="1552.72" stroke-width="11.68"/><line x1="286.28" y1="1552.72" x2="288.57" y2="1552.93" stroke-width="11.45"/><line x1="288.57" y1="1552.93" x2="290.85" y2="1553.15" stroke-width="11.22"/><line x1="290.85" y1="1553.15" x2="293.13" y2="1553.37" stroke-width="10.98"/><line x1="293.13" y1="1553.37" x2="295.42" y2="1553.58" stroke-width="10.75"/><line x1="295.42" y1="1553.58" x2="297.7" y2="1553.8" stroke-width="10.52"/><line x1="297.7" y1="1553.8" x2="299.86" y2="1553.7" stroke-width="10.49"/><line x1="299.86" y1="1553.7" x2="302.02" y2="1553.6" stroke-width="10.68"/><line x1="302.02" y1="1553.6" x2="304.19" y2="1553.5" stroke-width="10.87"/><line x1="304.19" y1="1553.5" x2="306.35" y2="1553.4" stroke-width="11.06"/><line x1="306.35" y1="1553.4" x2="308.51" y2="1553.3" stroke-width="11.24"/><line x1="308.51" y1="1553.3" x2="310.68" y2="1553.2" stroke-width="11.43"/><line x1="310.68" y1="1553.2" x2="312.84" y2="1553.1" stroke-width="11.62"/><line x1="312.84" y1="1553.1" x2="315" y2="1553" stroke-width="11.81"/><line x1="315" y1="1553" x2="317.45" y2="1552.85" stroke-width="11.84"/><line x1="317.45" y1="1552.85" x2="319.9" y2="1552.7" stroke-width="11.71"/><line x1="319.9" y1="1552.7" x2="322.35" y2="1552.55" stroke-width="11.59"/><line x1="322.35" y1="1552.55" x2="324.8" y2="1552.4" stroke-width="11.46"/><line x1="349.5" y1="1527.8" x2="351.6" y2="1527.83" stroke-width="12.82"/><line x1="351.6" y1="1527.83" x2="353.7" y2="1527.87" stroke-width="12.66"/><line x1="353.7" y1="1527.87" x2="355.8" y2="1527.9" stroke-width="12.5"/><line x1="355.8" y1="1527.9" x2="357.9" y2="1527.93" stroke-width="12.35"/><line x1="357.9" y1="1527.93" x2="360" y2="1527.97" stroke-width="12.19"/><line x1="360" y1="1527.97" x2="362.1" y2="1528" stroke-width="12.03"/><line x1="362.1" y1="1528" x2="364.2" y2="1528.03" stroke-width="11.87"/><line x1="364.2" y1="1528.03" x2="366.3" y2="1528.07" stroke-width="11.71"/><line x1="366.3" y1="1528.07" x2="368.4" y2="1528.1" stroke-width="11.55"/><line x1="368.4" y1="1528.1" x2="370.5" y2="1528.13" stroke-width="11.4"/><line x1="370.5" y1="1528.13" x2="372.6" y2="1528.17" stroke-width="11.24"/><line x1="372.6" y1="1528.17" x2="374.7" y2="1528.2" stroke-width="11.08"/><line x1="374.7" y1="1528.2" x2="376.91" y2="1528.03" stroke-width="11.03"/><line x1="376.91" y1="1528.03" x2="379.12" y2="1527.87" stroke-width="11.1"/><line x1="379.12" y1="1527.87" x2="381.33" y2="1527.7" stroke-width="11.17"/><line x1="381.33" y1="1527.7" x2="383.54" y2="1527.53" stroke-width="11.23"/><line x1="383.54" y1="1527.53" x2="385.76" y2="1527.37" stroke-width="11.3"/><line x1="385.76" y1="1527.37" x2="387.97" y2="1527.2" stroke-width="11.37"/><line x1="387.97" y1="1527.2" x2="390.18" y2="1527.03" stroke-width="11.43"/><line x1="390.18" y1="1527.03" x2="392.39" y2="1526.87" stroke-width="11.5"/><line x1="392.39" y1="1526.87" x2="394.6" y2="1526.7" stroke-width="11.57"/><line x1="394.6" y1="1526.7" x2="396.7" y2="1526.7" stroke-width="11.61"/><line x1="396.7" y1="1526.7" x2="398.8" y2="1526.7" stroke-width="11.64"/><line x1="398.8" y1="1526.7" x2="400.9" y2="1526.7" stroke-width="11.66"/><line x1="400.9" y1="1526.7" x2="403" y2="1526.7" stroke-width="11.69"/><line x1="350.8" y1="1552.4" x2="352.94" y2="1552.46" stroke-width="12.95"/><line x1="352.94" y1="1552.46" x2="355.08" y2="1552.52" stroke-width="12.85"/><line x1="355.08" y1="1552.52" x2="357.22" y2="1552.58" stroke-width="12.75"/><line x1="357.22" y1="1552.58" x2="359.36" y2="1552.64" stroke-width="12.65"/><line x1="359.36" y1="1552.64" x2="361.5" y2="1552.7" stroke-width="12.55"/><line x1="361.5" y1="1552.7" x2="363.64" y2="1552.76" stroke-width="12.45"/><line x1="363.64" y1="1552.76" x2="365.78" y2="1552.82" stroke-width="12.35"/><line x1="365.78" y1="1552.82" x2="367.92" y2="1552.88" stroke-width="12.25"/><line x1="367.92" y1="1552.88" x2="370.06" y2="1552.94" stroke-width="12.15"/><line x1="370.06" y1="1552.94" x2="372.2" y2="1553" stroke-width="12.05"/><line x1="372.2" y1="1553" x2="374.24" y2="1552.84" stroke-width="12"/><line x1="374.24" y1="1552.84" x2="376.27" y2="1552.67" stroke-width="12"/><line x1="376.27" y1="1552.67" x2="378.31" y2="1552.51" stroke-width="12"/><line x1="378.31" y1="1552.51" x2="380.35" y2="1552.35" stroke-width="12"/><line x1="380.35" y1="1552.35" x2="382.38" y2="1552.18" stroke-width="12"/><line x1="382.38" y1="1552.18" x2="384.42" y2="1552.02" stroke-width="12"/><line x1="384.42" y1="1552.02" x2="386.45" y2="1551.85" stroke-width="12"/><line x1="386.45" y1="1551.85" x2="388.49" y2="1551.69" stroke-width="12"/><line x1="388.49" y1="1551.69" x2="390.53" y2="1551.53" stroke-width="12"/><line x1="390.53" y1="1551.53" x2="392.56" y2="1551.36" stroke-width="12"/><line x1="392.56" y1="1551.36" x2="394.6" y2="1551.2" stroke-width="12"/><line x1="394.6" y1="1551.2" x2="396.95" y2="1551.22" stroke-width="12"/><line x1="396.95" y1="1551.22" x2="399.3" y2="1551.25" stroke-width="12"/><line x1="399.3" y1="1551.25" x2="401.65" y2="1551.28" stroke-width="12"/><line x1="401.65" y1="1551.28" x2="404" y2="1551.3" stroke-width="12"/><line x1="450.5" y1="1531.5" x2="453" y2="1531.33" stroke-width="7.32"/><line x1="453" y1="1531.33" x2="455.5" y2="1531.17" stroke-width="8.15"/><line x1="455.5" y1="1531.17" x2="458" y2="1531" stroke-width="8.98"/><line x1="458" y1="1531" x2="460.23" y2="1530.94" stroke-width="9.54"/><line x1="460.23" y1="1530.94" x2="462.45" y2="1530.88" stroke-width="9.83"/><line x1="462.45" y1="1530.88" x2="464.68" y2="1530.81" stroke-width="10.12"/><line x1="464.68" y1="1530.81" x2="466.9" y2="1530.75" stroke-width="10.41"/><line x1="466.9" y1="1530.75" x2="469.12" y2="1530.69" stroke-width="10.69"/><line x1="469.12" y1="1530.69" x2="471.35" y2="1530.62" stroke-width="10.98"/><line x1="471.35" y1="1530.62" x2="473.57" y2="1530.56" stroke-width="11.27"/><line x1="473.57" y1="1530.56" x2="475.8" y2="1530.5" stroke-width="11.56"/><line x1="475.8" y1="1530.5" x2="477.89" y2="1530.32" stroke-width="11.73"/><line x1="477.89" y1="1530.32" x2="479.97" y2="1530.14" stroke-width="11.78"/><line x1="479.97" y1="1530.14" x2="482.06" y2="1529.96" stroke-width="11.83"/><line x1="482.06" y1="1529.96" x2="484.14" y2="1529.79" stroke-width="11.88"/><line x1="484.14" y1="1529.79" x2="486.23" y2="1529.61" stroke-width="11.93"/><line x1="486.23" y1="1529.61" x2="488.31" y2="1529.43" stroke-width="11.97"/><line x1="488.31" y1="1529.43" x2="490.4" y2="1529.25" stroke-width="12.03"/><line x1="490.4" y1="1529.25" x2="492.49" y2="1529.07" stroke-width="12.08"/><line x1="492.49" y1="1529.07" x2="494.57" y2="1528.89" stroke-width="12.13"/><line x1="494.57" y1="1528.89" x2="496.66" y2="1528.71" stroke-width="12.18"/><line x1="496.66" y1="1528.71" x2="498.74" y2="1528.54" stroke-width="12.22"/><line x1="498.74" y1="1528.54" x2="500.83" y2="1528.36" stroke-width="12.28"/><line x1="500.83" y1="1528.36" x2="502.91" y2="1528.18" stroke-width="12.33"/><line x1="502.91" y1="1528.18" x2="505" y2="1528" stroke-width="12.38"/><line x1="505" y1="1528" x2="507.25" y2="1527.92" stroke-width="12.36"/><line x1="507.25" y1="1527.92" x2="509.5" y2="1527.83" stroke-width="12.28"/><line x1="509.5" y1="1527.83" x2="511.75" y2="1527.75" stroke-width="12.19"/><line x1="511.75" y1="1527.75" x2="514" y2="1527.67" stroke-width="12.11"/><line x1="514" y1="1527.67" x2="516.25" y2="1527.58" stroke-width="12.03"/><line x1="516.25" y1="1527.58" x2="518.5" y2="1527.5" stroke-width="11.94"/><line x1="452" y1="1556.5" x2="454" y2="1556.45" stroke-width="8.15"/><line x1="454" y1="1556.45" x2="456" y2="1556.4" stroke-width="8.65"/><line x1="456" y1="1556.4" x2="458" y2="1556.35" stroke-width="9.15"/><line x1="458" y1="1556.35" x2="460" y2="1556.3" stroke-width="9.65"/><line x1="460" y1="1556.3" x2="462.26" y2="1556.27" stroke-width="10.02"/><line x1="462.26" y1="1556.27" x2="464.51" y2="1556.24" stroke-width="10.26"/><line x1="464.51" y1="1556.24" x2="466.77" y2="1556.21" stroke-width="10.51"/><line x1="466.77" y1="1556.21" x2="469.03" y2="1556.19" stroke-width="10.75"/><line x1="469.03" y1="1556.19" x2="471.29" y2="1556.16" stroke-width="10.99"/><line x1="471.29" y1="1556.16" x2="473.54" y2="1556.13" stroke-width="11.24"/><line x1="473.54" y1="1556.13" x2="475.8" y2="1556.1" stroke-width="11.48"/><line x1="475.8" y1="1556.1" x2="477.89" y2="1555.91" stroke-width="11.62"/><line x1="477.89" y1="1555.91" x2="479.97" y2="1555.73" stroke-width="11.67"/><line x1="479.97" y1="1555.73" x2="482.06" y2="1555.54" stroke-width="11.72"/><line x1="482.06" y1="1555.54" x2="484.14" y2="1555.36" stroke-width="11.78"/><line x1="484.14" y1="1555.36" x2="486.23" y2="1555.17" stroke-width="11.83"/><line x1="486.23" y1="1555.17" x2="488.31" y2="1554.99" stroke-width="11.88"/><line x1="488.31" y1="1554.99" x2="490.4" y2="1554.8" stroke-width="11.93"/><line x1="490.4" y1="1554.8" x2="492.49" y2="1554.61" stroke-width="11.97"/><line x1="492.49" y1="1554.61" x2="494.57" y2="1554.43" stroke-width="12.03"/><line x1="494.57" y1="1554.43" x2="496.66" y2="1554.24" stroke-width="12.08"/><line x1="496.66" y1="1554.24" x2="498.74" y2="1554.06" stroke-width="12.12"/><line x1="498.74" y1="1554.06" x2="500.83" y2="1553.87" stroke-width="12.18"/><line x1="500.83" y1="1553.87" x2="502.91" y2="1553.69" stroke-width="12.22"/><line x1="502.91" y1="1553.69" x2="505" y2="1553.5" stroke-width="12.28"/><line x1="505" y1="1553.5" x2="507.3" y2="1553.3" stroke-width="12.22"/><line x1="507.3" y1="1553.3" x2="509.6" y2="1553.1" stroke-width="12.08"/><line x1="509.6" y1="1553.1" x2="511.9" y2="1552.9" stroke-width="11.92"/><line x1="511.9" y1="1552.9" x2="514.2" y2="1552.7" stroke-width="11.78"/><line x1="514.2" y1="1552.7" x2="516.5" y2="1552.5" stroke-width="11.63"/><line x1="516.5" y1="1552.5" x2="518.8" y2="1552.3" stroke-width="11.47"/><line x1="545" y1="1526.2" x2="547.02" y2="1526.14" stroke-width="10.39"/><line x1="547.02" y1="1526.14" x2="549.04" y2="1526.07" stroke-width="10.36"/><line x1="549.04" y1="1526.07" x2="551.05" y2="1526.01" stroke-width="10.33"/><line x1="551.05" y1="1526.01" x2="553.07" y2="1525.95" stroke-width="10.3"/><line x1="553.07" y1="1525.95" x2="555.09" y2="1525.88" stroke-width="10.28"/><line x1="555.09" y1="1525.88" x2="557.11" y2="1525.82" stroke-width="10.25"/><line x1="557.11" y1="1525.82" x2="559.13" y2="1525.75" stroke-width="10.22"/><line x1="559.13" y1="1525.75" x2="561.15" y2="1525.69" stroke-width="10.2"/><line x1="561.15" y1="1525.69" x2="563.16" y2="1525.63" stroke-width="10.17"/><line x1="563.16" y1="1525.63" x2="565.18" y2="1525.56" stroke-width="10.14"/><line x1="565.18" y1="1525.56" x2="567.2" y2="1525.5" stroke-width="10.11"/><line x1="567.2" y1="1525.5" x2="569.27" y2="1525.33" stroke-width="10.13"/><line x1="569.27" y1="1525.33" x2="571.33" y2="1525.17" stroke-width="10.2"/><line x1="571.33" y1="1525.17" x2="573.4" y2="1525" stroke-width="10.27"/><line x1="573.4" y1="1525" x2="575.47" y2="1524.83" stroke-width="10.33"/><line x1="575.47" y1="1524.83" x2="577.53" y2="1524.67" stroke-width="10.4"/><line x1="577.53" y1="1524.67" x2="579.6" y2="1524.5" stroke-width="10.47"/><line x1="579.6" y1="1524.5" x2="581.67" y2="1524.33" stroke-width="10.53"/><line x1="581.67" y1="1524.33" x2="583.73" y2="1524.17" stroke-width="10.6"/><line x1="583.73" y1="1524.17" x2="585.8" y2="1524" stroke-width="10.67"/><line x1="585.8" y1="1524" x2="587.97" y2="1524" stroke-width="10.7"/><line x1="587.97" y1="1524" x2="590.13" y2="1524" stroke-width="10.7"/><line x1="590.13" y1="1524" x2="592.3" y2="1524" stroke-width="10.7"/><line x1="545.5" y1="1551" x2="547.67" y2="1550.9" stroke-width="10.04"/><line x1="547.67" y1="1550.9" x2="549.84" y2="1550.8" stroke-width="10.11"/><line x1="549.84" y1="1550.8" x2="552.01" y2="1550.7" stroke-width="10.18"/><line x1="552.01" y1="1550.7" x2="554.18" y2="1550.6" stroke-width="10.25"/><line x1="554.18" y1="1550.6" x2="556.35" y2="1550.5" stroke-width="10.31"/><line x1="556.35" y1="1550.5" x2="558.52" y2="1550.4" stroke-width="10.38"/><line x1="558.52" y1="1550.4" x2="560.69" y2="1550.3" stroke-width="10.46"/><line x1="560.69" y1="1550.3" x2="562.86" y2="1550.2" stroke-width="10.53"/><line x1="562.86" y1="1550.2" x2="565.03" y2="1550.1" stroke-width="10.6"/><line x1="565.03" y1="1550.1" x2="567.2" y2="1550" stroke-width="10.67"/><line x1="567.2" y1="1550" x2="569.27" y2="1549.83" stroke-width="10.73"/><line x1="569.27" y1="1549.83" x2="571.33" y2="1549.67" stroke-width="10.8"/><line x1="571.33" y1="1549.67" x2="573.4" y2="1549.5" stroke-width="10.87"/><line x1="573.4" y1="1549.5" x2="575.47" y2="1549.33" stroke-width="10.93"/><line x1="575.47" y1="1549.33" x2="577.53" y2="1549.17" stroke-width="11"/><line x1="577.53" y1="1549.17" x2="579.6" y2="1549" stroke-width="11.07"/><line x1="579.6" y1="1549" x2="581.67" y2="1548.83" stroke-width="11.13"/><line x1="581.67" y1="1548.83" x2="583.73" y2="1548.67" stroke-width="11.2"/><line x1="583.73" y1="1548.67" x2="585.8" y2="1548.5" stroke-width="11.27"/><line x1="585.8" y1="1548.5" x2="587.87" y2="1548.5" stroke-width="11.3"/><line x1="587.87" y1="1548.5" x2="589.93" y2="1548.5" stroke-width="11.3"/><line x1="589.93" y1="1548.5" x2="592" y2="1548.5" stroke-width="11.3"/></g>
<g stroke="#000" stroke-linecap="round" filter="url(#blur1)"><line x1="92.8" y1="1531" x2="95.15" y2="1530.6" stroke-width="5.25"/><line x1="95.15" y1="1530.6" x2="97.5" y2="1530.2" stroke-width="6.95"/><line x1="97.5" y1="1530.2" x2="99.55" y2="1530.11" stroke-width="7.86"/><line x1="99.55" y1="1530.11" x2="101.59" y2="1530.02" stroke-width="7.98"/><line x1="101.59" y1="1530.02" x2="103.64" y2="1529.93" stroke-width="8.1"/><line x1="103.64" y1="1529.93" x2="105.68" y2="1529.84" stroke-width="8.21"/><line x1="105.68" y1="1529.84" x2="107.73" y2="1529.75" stroke-width="8.33"/><line x1="107.73" y1="1529.75" x2="109.77" y2="1529.65" stroke-width="8.45"/><line x1="109.77" y1="1529.65" x2="111.82" y2="1529.56" stroke-width="8.57"/><line x1="111.82" y1="1529.56" x2="113.86" y2="1529.47" stroke-width="8.69"/><line x1="113.86" y1="1529.47" x2="115.91" y2="1529.38" stroke-width="8.8"/><line x1="115.91" y1="1529.38" x2="117.95" y2="1529.29" stroke-width="8.92"/><line x1="117.95" y1="1529.29" x2="120" y2="1529.2" stroke-width="9.04"/><line x1="120" y1="1529.2" x2="122" y2="1529.01" stroke-width="9.17"/><line x1="122" y1="1529.01" x2="124" y2="1528.82" stroke-width="9.31"/><line x1="124" y1="1528.82" x2="126" y2="1528.63" stroke-width="9.45"/><line x1="126" y1="1528.63" x2="128" y2="1528.44" stroke-width="9.59"/><line x1="128" y1="1528.44" x2="130" y2="1528.25" stroke-width="9.73"/><line x1="130" y1="1528.25" x2="132" y2="1528.06" stroke-width="9.87"/><line x1="132" y1="1528.06" x2="134" y2="1527.87" stroke-width="10.01"/><line x1="134" y1="1527.87" x2="136" y2="1527.68" stroke-width="10.15"/><line x1="136" y1="1527.68" x2="138" y2="1527.49" stroke-width="10.29"/><line x1="138" y1="1527.49" x2="140" y2="1527.3" stroke-width="10.43"/><line x1="140" y1="1527.3" x2="142.1" y2="1527.11" stroke-width="10.53"/><line x1="142.1" y1="1527.11" x2="144.2" y2="1526.92" stroke-width="10.58"/><line x1="144.2" y1="1526.92" x2="146.3" y2="1526.74" stroke-width="10.62"/><line x1="146.3" y1="1526.74" x2="148.4" y2="1526.55" stroke-width="10.68"/><line x1="148.4" y1="1526.55" x2="150.5" y2="1526.36" stroke-width="10.72"/><line x1="150.5" y1="1526.36" x2="152.6" y2="1526.17" stroke-width="10.78"/><line x1="152.6" y1="1526.17" x2="154.7" y2="1525.99" stroke-width="10.83"/><line x1="154.7" y1="1525.99" x2="156.8" y2="1525.8" stroke-width="10.88"/><line x1="156.8" y1="1525.8" x2="159.2" y2="1525.87" stroke-width="10.95"/><line x1="159.2" y1="1525.87" x2="161.6" y2="1525.93" stroke-width="11.05"/><line x1="161.6" y1="1525.93" x2="164" y2="1526" stroke-width="11.15"/><line x1="98.5" y1="1555" x2="101.35" y2="1554.7" stroke-width="6.4"/><line x1="101.35" y1="1554.7" x2="104.2" y2="1554.4" stroke-width="7.4"/><line x1="104.2" y1="1554.4" x2="106.28" y2="1554.3" stroke-width="7.94"/><line x1="106.28" y1="1554.3" x2="108.36" y2="1554.2" stroke-width="8.02"/><line x1="108.36" y1="1554.2" x2="110.44" y2="1554.1" stroke-width="8.1"/><line x1="110.44" y1="1554.1" x2="112.52" y2="1554" stroke-width="8.18"/><line x1="112.52" y1="1554" x2="114.6" y2="1553.9" stroke-width="8.26"/><line x1="114.6" y1="1553.9" x2="116.68" y2="1553.8" stroke-width="8.34"/><line x1="116.68" y1="1553.8" x2="118.76" y2="1553.7" stroke-width="8.42"/><line x1="118.76" y1="1553.7" x2="120.84" y2="1553.6" stroke-width="8.5"/><line x1="120.84" y1="1553.6" x2="122.92" y2="1553.5" stroke-width="8.58"/><line x1="122.92" y1="1553.5" x2="125" y2="1553.4" stroke-width="8.66"/><line x1="125" y1="1553.4" x2="127.14" y2="1553.21" stroke-width="8.76"/><line x1="127.14" y1="1553.21" x2="129.29" y2="1553.03" stroke-width="8.89"/><line x1="129.29" y1="1553.03" x2="131.43" y2="1552.84" stroke-width="9.02"/><line x1="131.43" y1="1552.84" x2="133.57" y2="1552.66" stroke-width="9.15"/><line x1="133.57" y1="1552.66" x2="135.71" y2="1552.47" stroke-width="9.28"/><line x1="135.71" y1="1552.47" x2="137.86" y2="1552.29" stroke-width="9.41"/><line x1="137.86" y1="1552.29" x2="140" y2="1552.1" stroke-width="9.54"/><line x1="140" y1="1552.1" x2="142" y2="1551.84" stroke-width="9.5"/><line x1="142" y1="1551.84" x2="144" y2="1551.58" stroke-width="9.3"/><line x1="144" y1="1551.58" x2="146" y2="1551.32" stroke-width="9.1"/><line x1="146" y1="1551.32" x2="148" y2="1551.06" stroke-width="8.9"/><line x1="148" y1="1551.06" x2="150" y2="1550.8" stroke-width="8.7"/><line x1="150" y1="1550.8" x2="152" y2="1550.65" stroke-width="8.39"/><line x1="152" y1="1550.65" x2="154" y2="1550.5" stroke-width="7.96"/><line x1="154" y1="1550.5" x2="156" y2="1550.35" stroke-width="7.54"/><line x1="156" y1="1550.35" x2="158" y2="1550.2" stroke-width="7.11"/><line x1="158" y1="1550.2" x2="160.5" y2="1550.05" stroke-width="6.28"/><line x1="160.5" y1="1550.05" x2="163" y2="1549.9" stroke-width="5.03"/><line x1="185.8" y1="1524" x2="187.92" y2="1523.88" stroke-width="11.45"/><line x1="187.92" y1="1523.88" x2="190.03" y2="1523.77" stroke-width="11.55"/><line x1="190.03" y1="1523.77" x2="192.15" y2="1523.65" stroke-width="11.65"/><line x1="192.15" y1="1523.65" x2="194.27" y2="1523.53" stroke-width="11.75"/><line x1="194.27" y1="1523.53" x2="196.38" y2="1523.42" stroke-width="11.85"/><line x1="196.38" y1="1523.42" x2="198.5" y2="1523.3" stroke-width="11.95"/><line x1="198.5" y1="1523.3" x2="200.58" y2="1523.5" stroke-width="11.92"/><line x1="200.58" y1="1523.5" x2="202.67" y2="1523.7" stroke-width="11.75"/><line x1="202.67" y1="1523.7" x2="204.75" y2="1523.9" stroke-width="11.58"/><line x1="204.75" y1="1523.9" x2="206.83" y2="1524.1" stroke-width="11.42"/><line x1="206.83" y1="1524.1" x2="208.92" y2="1524.3" stroke-width="11.25"/><line x1="208.92" y1="1524.3" x2="211" y2="1524.5" stroke-width="11.08"/><line x1="211" y1="1524.5" x2="213.11" y2="1524.37" stroke-width="11.1"/><line x1="213.11" y1="1524.37" x2="215.23" y2="1524.24" stroke-width="11.3"/><line x1="215.23" y1="1524.24" x2="217.34" y2="1524.11" stroke-width="11.5"/><line x1="217.34" y1="1524.11" x2="219.46" y2="1523.99" stroke-width="11.7"/><line x1="219.46" y1="1523.99" x2="221.57" y2="1523.86" stroke-width="11.9"/><line x1="221.57" y1="1523.86" x2="223.69" y2="1523.73" stroke-width="12.1"/><line x1="223.69" y1="1523.73" x2="225.8" y2="1523.6" stroke-width="12.3"/><line x1="225.8" y1="1523.6" x2="227.92" y2="1523.65" stroke-width="12.32"/><line x1="227.92" y1="1523.65" x2="230.03" y2="1523.7" stroke-width="12.15"/><line x1="230.03" y1="1523.7" x2="232.15" y2="1523.75" stroke-width="11.98"/><line x1="232.15" y1="1523.75" x2="234.27" y2="1523.8" stroke-width="11.82"/><line x1="234.27" y1="1523.8" x2="236.38" y2="1523.85" stroke-width="11.65"/><line x1="236.38" y1="1523.85" x2="238.5" y2="1523.9" stroke-width="11.48"/><line x1="186.5" y1="1549" x2="188.57" y2="1549" stroke-width="10.5"/><line x1="188.57" y1="1549" x2="190.64" y2="1549" stroke-width="10.7"/><line x1="190.64" y1="1549" x2="192.71" y2="1549" stroke-width="10.9"/><line x1="192.71" y1="1549" x2="194.78" y2="1549" stroke-width="11.1"/><line x1="194.78" y1="1549" x2="196.85" y2="1549" stroke-width="11.3"/><line x1="196.85" y1="1549" x2="198.92" y2="1549" stroke-width="11.5"/><line x1="198.92" y1="1549" x2="200.99" y2="1549" stroke-width="11.7"/><line x1="200.99" y1="1549" x2="203.06" y2="1549" stroke-width="11.9"/><line x1="203.06" y1="1549" x2="205.13" y2="1549" stroke-width="12.1"/><line x1="205.13" y1="1549" x2="207.2" y2="1549" stroke-width="12.3"/><line x1="207.2" y1="1549" x2="209.31" y2="1548.75" stroke-width="12.4"/><line x1="209.31" y1="1548.75" x2="211.42" y2="1548.5" stroke-width="12.4"/><line x1="211.42" y1="1548.5" x2="213.53" y2="1548.25" stroke-width="12.4"/><line x1="213.53" y1="1548.25" x2="215.64" y2="1548" stroke-width="12.4"/><line x1="215.64" y1="1548" x2="217.75" y2="1547.75" stroke-width="12.4"/><line x1="217.75" y1="1547.75" x2="219.86" y2="1547.5" stroke-width="12.4"/><line x1="219.86" y1="1547.5" x2="221.97" y2="1547.25" stroke-width="12.4"/><line x1="221.97" y1="1547.25" x2="224.08" y2="1547" stroke-width="12.4"/><line x1="224.08" y1="1547" x2="226.19" y2="1546.75" stroke-width="12.4"/><line x1="226.19" y1="1546.75" x2="228.3" y2="1546.5" stroke-width="12.4"/><line x1="228.3" y1="1546.5" x2="230.54" y2="1546.46" stroke-width="12.35"/><line x1="230.54" y1="1546.46" x2="232.78" y2="1546.42" stroke-width="12.25"/><line x1="232.78" y1="1546.42" x2="235.02" y2="1546.38" stroke-width="12.15"/><line x1="235.02" y1="1546.38" x2="237.26" y2="1546.34" stroke-width="12.05"/><line x1="237.26" y1="1546.34" x2="239.5" y2="1546.3" stroke-width="11.95"/><line x1="267.8" y1="1528" x2="269.84" y2="1528.05" stroke-width="11.2"/><line x1="269.84" y1="1528.05" x2="271.87" y2="1528.09" stroke-width="11.21"/><line x1="271.87" y1="1528.09" x2="273.91" y2="1528.14" stroke-width="11.22"/><line x1="273.91" y1="1528.14" x2="275.95" y2="1528.18" stroke-width="11.23"/><line x1="275.95" y1="1528.18" x2="277.98" y2="1528.23" stroke-width="11.24"/><line x1="277.98" y1="1528.23" x2="280.02" y2="1528.27" stroke-width="11.25"/><line x1="280.02" y1="1528.27" x2="282.05" y2="1528.32" stroke-width="11.26"/><line x1="282.05" y1="1528.32" x2="284.09" y2="1528.36" stroke-width="11.27"/><line x1="284.09" y1="1528.36" x2="286.13" y2="1528.41" stroke-width="11.28"/><line x1="286.13" y1="1528.41" x2="288.16" y2="1528.45" stroke-width="11.29"/><line x1="288.16" y1="1528.45" x2="290.2" y2="1528.5" stroke-width="11.3"/><line x1="290.2" y1="1528.5" x2="292.4" y2="1528.33" stroke-width="11.39"/><line x1="292.4" y1="1528.33" x2="294.6" y2="1528.17" stroke-width="11.57"/><line x1="294.6" y1="1528.17" x2="296.8" y2="1528" stroke-width="11.74"/><line x1="296.8" y1="1528" x2="299" y2="1527.83" stroke-width="11.92"/><line x1="299" y1="1527.83" x2="301.2" y2="1527.67" stroke-width="12.1"/><line x1="301.2" y1="1527.67" x2="303.4" y2="1527.5" stroke-width="12.28"/><line x1="303.4" y1="1527.5" x2="305.6" y2="1527.33" stroke-width="12.46"/><line x1="305.6" y1="1527.33" x2="307.8" y2="1527.17" stroke-width="12.63"/><line x1="307.8" y1="1527.17" x2="310" y2="1527" stroke-width="12.81"/><line x1="310" y1="1527" x2="312.36" y2="1527.06" stroke-width="12.83"/><line x1="312.36" y1="1527.06" x2="314.72" y2="1527.12" stroke-width="12.69"/><line x1="314.72" y1="1527.12" x2="317.08" y2="1527.18" stroke-width="12.55"/><line x1="317.08" y1="1527.18" x2="319.44" y2="1527.24" stroke-width="12.41"/><line x1="319.44" y1="1527.24" x2="321.8" y2="1527.3" stroke-width="12.27"/><line x1="269.5" y1="1552.7" x2="271.57" y2="1552.67" stroke-width="10.69"/><line x1="271.57" y1="1552.67" x2="273.64" y2="1552.64" stroke-width="10.86"/><line x1="273.64" y1="1552.64" x2="275.71" y2="1552.61" stroke-width="11.03"/><line x1="275.71" y1="1552.61" x2="277.79" y2="1552.59" stroke-width="11.2"/><line x1="277.79" y1="1552.59" x2="279.86" y2="1552.56" stroke-width="11.37"/><line x1="279.86" y1="1552.56" x2="281.93" y2="1552.53" stroke-width="11.54"/><line x1="281.93" y1="1552.53" x2="284" y2="1552.5" stroke-width="11.71"/><line x1="284" y1="1552.5" x2="286.28" y2="1552.72" stroke-width="11.68"/><line x1="286.28" y1="1552.72" x2="288.57" y2="1552.93" stroke-width="11.45"/><line x1="288.57" y1="1552.93" x2="290.85" y2="1553.15" stroke-width="11.22"/><line x1="290.85" y1="1553.15" x2="293.13" y2="1553.37" stroke-width="10.98"/><line x1="293.13" y1="1553.37" x2="295.42" y2="1553.58" stroke-width="10.75"/><line x1="295.42" y1="1553.58" x2="297.7" y2="1553.8" stroke-width="10.52"/><line x1="297.7" y1="1553.8" x2="299.86" y2="1553.7" stroke-width="10.49"/><line x1="299.86" y1="1553.7" x2="302.02" y2="1553.6" stroke-width="10.68"/><line x1="302.02" y1="1553.6" x2="304.19" y2="1553.5" stroke-width="10.87"/><line x1="304.19" y1="1553.5" x2="306.35" y2="1553.4" stroke-width="11.06"/><line x1="306.35" y1="1553.4" x2="308.51" y2="1553.3" stroke-width="11.24"/><line x1="308.51" y1="1553.3" x2="310.68" y2="1553.2" stroke-width="11.43"/><line x1="310.68" y1="1553.2" x2="312.84" y2="1553.1" stroke-width="11.62"/><line x1="312.84" y1="1553.1" x2="315" y2="1553" stroke-width="11.81"/><line x1="315" y1="1553" x2="317.45" y2="1552.85" stroke-width="11.84"/><line x1="317.45" y1="1552.85" x2="319.9" y2="1552.7" stroke-width="11.71"/><line x1="319.9" y1="1552.7" x2="322.35" y2="1552.55" stroke-width="11.59"/><line x1="322.35" y1="1552.55" x2="324.8" y2="1552.4" stroke-width="11.46"/><line x1="349.5" y1="1527.8" x2="351.6" y2="1527.83" stroke-width="12.82"/><line x1="351.6" y1="1527.83" x2="353.7" y2="1527.87" stroke-width="12.66"/><line x1="353.7" y1="1527.87" x2="355.8" y2="1527.9" stroke-width="12.5"/><line x1="355.8" y1="1527.9" x2="357.9" y2="1527.93" stroke-width="12.35"/><line x1="357.9" y1="1527.93" x2="360" y2="1527.97" stroke-width="12.19"/><line x1="360" y1="1527.97" x2="362.1" y2="1528" stroke-width="12.03"/><line x1="362.1" y1="1528" x2="364.2" y2="1528.03" stroke-width="11.87"/><line x1="364.2" y1="1528.03" x2="366.3" y2="1528.07" stroke-width="11.71"/><line x1="366.3" y1="1528.07" x2="368.4" y2="1528.1" stroke-width="11.55"/><line x1="368.4" y1="1528.1" x2="370.5" y2="1528.13" stroke-width="11.4"/><line x1="370.5" y1="1528.13" x2="372.6" y2="1528.17" stroke-width="11.24"/><line x1="372.6" y1="1528.17" x2="374.7" y2="1528.2" stroke-width="11.08"/><line x1="374.7" y1="1528.2" x2="376.91" y2="1528.03" stroke-width="11.03"/><line x1="376.91" y1="1528.03" x2="379.12" y2="1527.87" stroke-width="11.1"/><line x1="379.12" y1="1527.87" x2="381.33" y2="1527.7" stroke-width="11.17"/><line x1="381.33" y1="1527.7" x2="383.54" y2="1527.53" stroke-width="11.23"/><line x1="383.54" y1="1527.53" x2="385.76" y2="1527.37" stroke-width="11.3"/><line x1="385.76" y1="1527.37" x2="387.97" y2="1527.2" stroke-width="11.37"/><line x1="387.97" y1="1527.2" x2="390.18" y2="1527.03" stroke-width="11.43"/><line x1="390.18" y1="1527.03" x2="392.39" y2="1526.87" stroke-width="11.5"/><line x1="392.39" y1="1526.87" x2="394.6" y2="1526.7" stroke-width="11.57"/><line x1="394.6" y1="1526.7" x2="396.7" y2="1526.7" stroke-width="11.61"/><line x1="396.7" y1="1526.7" x2="398.8" y2="1526.7" stroke-width="11.64"/><line x1="398.8" y1="1526.7" x2="400.9" y2="1526.7" stroke-width="11.66"/><line x1="400.9" y1="1526.7" x2="403" y2="1526.7" stroke-width="11.69"/><line x1="350.8" y1="1552.4" x2="352.94" y2="1552.46" stroke-width="12.95"/><line x1="352.94" y1="1552.46" x2="355.08" y2="1552.52" stroke-width="12.85"/><line x1="355.08" y1="1552.52" x2="357.22" y2="1552.58" stroke-width="12.75"/><line x1="357.22" y1="1552.58" x2="359.36" y2="1552.64" stroke-width="12.65"/><line x1="359.36" y1="1552.64" x2="361.5" y2="1552.7" stroke-width="12.55"/><line x1="361.5" y1="1552.7" x2="363.64" y2="1552.76" stroke-width="12.45"/><line x1="363.64" y1="1552.76" x2="365.78" y2="1552.82" stroke-width="12.35"/><line x1="365.78" y1="1552.82" x2="367.92" y2="1552.88" stroke-width="12.25"/><line x1="367.92" y1="1552.88" x2="370.06" y2="1552.94" stroke-width="12.15"/><line x1="370.06" y1="1552.94" x2="372.2" y2="1553" stroke-width="12.05"/><line x1="372.2" y1="1553" x2="374.24" y2="1552.84" stroke-width="12"/><line x1="374.24" y1="1552.84" x2="376.27" y2="1552.67" stroke-width="12"/><line x1="376.27" y1="1552.67" x2="378.31" y2="1552.51" stroke-width="12"/><line x1="378.31" y1="1552.51" x2="380.35" y2="1552.35" stroke-width="12"/><line x1="380.35" y1="1552.35" x2="382.38" y2="1552.18" stroke-width="12"/><line x1="382.38" y1="1552.18" x2="384.42" y2="1552.02" stroke-width="12"/><line x1="384.42" y1="1552.02" x2="386.45" y2="1551.85" stroke-width="12"/><line x1="386.45" y1="1551.85" x2="388.49" y2="1551.69" stroke-width="12"/><line x1="388.49" y1="1551.69" x2="390.53" y2="1551.53" stroke-width="12"/><line x1="390.53" y1="1551.53" x2="392.56" y2="1551.36" stroke-width="12"/><line x1="392.56" y1="1551.36" x2="394.6" y2="1551.2" stroke-width="12"/><line x1="394.6" y1="1551.2" x2="396.95" y2="1551.22" stroke-width="12"/><line x1="396.95" y1="1551.22" x2="399.3" y2="1551.25" stroke-width="12"/><line x1="399.3" y1="1551.25" x2="401.65" y2="1551.28" stroke-width="12"/><line x1="401.65" y1="1551.28" x2="404" y2="1551.3" stroke-width="12"/><line x1="450.5" y1="1531.5" x2="453" y2="1531.33" stroke-width="7.32"/><line x1="453" y1="1531.33" x2="455.5" y2="1531.17" stroke-width="8.15"/><line x1="455.5" y1="1531.17" x2="458" y2="1531" stroke-width="8.98"/><line x1="458" y1="1531" x2="460.23" y2="1530.94" stroke-width="9.54"/><line x1="460.23" y1="1530.94" x2="462.45" y2="1530.88" stroke-width="9.83"/><line x1="462.45" y1="1530.88" x2="464.68" y2="1530.81" stroke-width="10.12"/><line x1="464.68" y1="1530.81" x2="466.9" y2="1530.75" stroke-width="10.41"/><line x1="466.9" y1="1530.75" x2="469.12" y2="1530.69" stroke-width="10.69"/><line x1="469.12" y1="1530.69" x2="471.35" y2="1530.62" stroke-width="10.98"/><line x1="471.35" y1="1530.62" x2="473.57" y2="1530.56" stroke-width="11.27"/><line x1="473.57" y1="1530.56" x2="475.8" y2="1530.5" stroke-width="11.56"/><line x1="475.8" y1="1530.5" x2="477.89" y2="1530.32" stroke-width="11.73"/><line x1="477.89" y1="1530.32" x2="479.97" y2="1530.14" stroke-width="11.78"/><line x1="479.97" y1="1530.14" x2="482.06" y2="1529.96" stroke-width="11.83"/><line x1="482.06" y1="1529.96" x2="484.14" y2="1529.79" stroke-width="11.88"/><line x1="484.14" y1="1529.79" x2="486.23" y2="1529.61" stroke-width="11.93"/><line x1="486.23" y1="1529.61" x2="488.31" y2="1529.43" stroke-width="11.97"/><line x1="488.31" y1="1529.43" x2="490.4" y2="1529.25" stroke-width="12.03"/><line x1="490.4" y1="1529.25" x2="492.49" y2="1529.07" stroke-width="12.08"/><line x1="492.49" y1="1529.07" x2="494.57" y2="1528.89" stroke-width="12.13"/><line x1="494.57" y1="1528.89" x2="496.66" y2="1528.71" stroke-width="12.18"/><line x1="496.66" y1="1528.71" x2="498.74" y2="1528.54" stroke-width="12.22"/><line x1="498.74" y1="1528.54" x2="500.83" y2="1528.36" stroke-width="12.28"/><line x1="500.83" y1="1528.36" x2="502.91" y2="1528.18" stroke-width="12.33"/><line x1="502.91" y1="1528.18" x2="505" y2="1528" stroke-width="12.38"/><line x1="505" y1="1528" x2="507.25" y2="1527.92" stroke-width="12.36"/><line x1="507.25" y1="1527.92" x2="509.5" y2="1527.83" stroke-width="12.28"/><line x1="509.5" y1="1527.83" x2="511.75" y2="1527.75" stroke-width="12.19"/><line x1="511.75" y1="1527.75" x2="514" y2="1527.67" stroke-width="12.11"/><line x1="514" y1="1527.67" x2="516.25" y2="1527.58" stroke-width="12.03"/><line x1="516.25" y1="1527.58" x2="518.5" y2="1527.5" stroke-width="11.94"/><line x1="452" y1="1556.5" x2="454" y2="1556.45" stroke-width="8.15"/><line x1="454" y1="1556.45" x2="456" y2="1556.4" stroke-width="8.65"/><line x1="456" y1="1556.4" x2="458" y2="1556.35" stroke-width="9.15"/><line x1="458" y1="1556.35" x2="460" y2="1556.3" stroke-width="9.65"/><line x1="460" y1="1556.3" x2="462.26" y2="1556.27" stroke-width="10.02"/><line x1="462.26" y1="1556.27" x2="464.51" y2="1556.24" stroke-width="10.26"/><line x1="464.51" y1="1556.24" x2="466.77" y2="1556.21" stroke-width="10.51"/><line x1="466.77" y1="1556.21" x2="469.03" y2="1556.19" stroke-width="10.75"/><line x1="469.03" y1="1556.19" x2="471.29" y2="1556.16" stroke-width="10.99"/><line x1="471.29" y1="1556.16" x2="473.54" y2="1556.13" stroke-width="11.24"/><line x1="473.54" y1="1556.13" x2="475.8" y2="1556.1" stroke-width="11.48"/><line x1="475.8" y1="1556.1" x2="477.89" y2="1555.91" stroke-width="11.62"/><line x1="477.89" y1="1555.91" x2="479.97" y2="1555.73" stroke-width="11.67"/><line x1="479.97" y1="1555.73" x2="482.06" y2="1555.54" stroke-width="11.72"/><line x1="482.06" y1="1555.54" x2="484.14" y2="1555.36" stroke-width="11.78"/><line x1="484.14" y1="1555.36" x2="486.23" y2="1555.17" stroke-width="11.83"/><line x1="486.23" y1="1555.17" x2="488.31" y2="1554.99" stroke-width="11.88"/><line x1="488.31" y1="1554.99" x2="490.4" y2="1554.8" stroke-width="11.93"/><line x1="490.4" y1="1554.8" x2="492.49" y2="1554.61" stroke-width="11.97"/><line x1="492.49" y1="1554.61" x2="494.57" y2="1554.43" stroke-width="12.03"/><line x1="494.57" y1="1554.43" x2="496.66" y2="1554.24" stroke-width="12.08"/><line x1="496.66" y1="1554.24" x2="498.74" y2="1554.06" stroke-width="12.12"/><line x1="498.74" y1="1554.06" x2="500.83" y2="1553.87" stroke-width="12.18"/><line x1="500.83" y1="1553.87" x2="502.91" y2="1553.69" stroke-width="12.22"/><line x1="502.91" y1="1553.69" x2="505" y2="1553.5" stroke-width="12.28"/><line x1="505" y1="1553.5" x2="507.3" y2="1553.3" stroke-width="12.22"/><line x1="507.3" y1="1553.3" x2="509.6" y2="1553.1" stroke-width="12.08"/><line x1="509.6" y1="1553.1" x2="511.9" y2="1552.9" stroke-width="11.92"/><line x1="511.9" y1="1552.9" x2="514.2" y2="1552.7" stroke-width="11.78"/><line x1="514.2" y1="1552.7" x2="516.5" y2="1552.5" stroke-width="11.63"/><line x1="516.5" y1="1552.5" x2="518.8" y2="1552.3" stroke-width="11.47"/><line x1="545" y1="1526.2" x2="547.02" y2="1526.14" stroke-width="10.39"/><line x1="547.02" y1="1526.14" x2="549.04" y2="1526.07" stroke-width="10.36"/><line x1="549.04" y1="1526.07" x2="551.05" y2="1526.01" stroke-width="10.33"/><line x1="551.05" y1="1526.01" x2="553.07" y2="1525.95" stroke-width="10.3"/><line x1="553.07" y1="1525.95" x2="555.09" y2="1525.88" stroke-width="10.28"/><line x1="555.09" y1="1525.88" x2="557.11" y2="1525.82" stroke-width="10.25"/><line x1="557.11" y1="1525.82" x2="559.13" y2="1525.75" stroke-width="10.22"/><line x1="559.13" y1="1525.75" x2="561.15" y2="1525.69" stroke-width="10.2"/><line x1="561.15" y1="1525.69" x2="563.16" y2="1525.63" stroke-width="10.17"/><line x1="563.16" y1="1525.63" x2="565.18" y2="1525.56" stroke-width="10.14"/><line x1="565.18" y1="1525.56" x2="567.2" y2="1525.5" stroke-width="10.11"/><line x1="567.2" y1="1525.5" x2="569.27" y2="1525.33" stroke-width="10.13"/><line x1="569.27" y1="1525.33" x2="571.33" y2="1525.17" stroke-width="10.2"/><line x1="571.33" y1="1525.17" x2="573.4" y2="1525" stroke-width="10.27"/><line x1="573.4" y1="1525" x2="575.47" y2="1524.83" stroke-width="10.33"/><line x1="575.47" y1="1524.83" x2="577.53" y2="1524.67" stroke-width="10.4"/><line x1="577.53" y1="1524.67" x2="579.6" y2="1524.5" stroke-width="10.47"/><line x1="579.6" y1="1524.5" x2="581.67" y2="1524.33" stroke-width="10.53"/><line x1="581.67" y1="1524.33" x2="583.73" y2="1524.17" stroke-width="10.6"/><line x1="583.73" y1="1524.17" x2="585.8" y2="1524" stroke-width="10.67"/><line x1="585.8" y1="1524" x2="587.97" y2="1524" stroke-width="10.7"/><line x1="587.97" y1="1524" x2="590.13" y2="1524" stroke-width="10.7"/><line x1="590.13" y1="1524" x2="592.3" y2="1524" stroke-width="10.7"/><line x1="545.5" y1="1551" x2="547.67" y2="1550.9" stroke-width="10.04"/><line x1="547.67" y1="1550.9" x2="549.84" y2="1550.8" stroke-width="10.11"/><line x1="549.84" y1="1550.8" x2="552.01" y2="1550.7" stroke-width="10.18"/><line x1="552.01" y1="1550.7" x2="554.18" y2="1550.6" stroke-width="10.25"/><line x1="554.18" y1="1550.6" x2="556.35" y2="1550.5" stroke-width="10.31"/><line x1="556.35" y1="1550.5" x2="558.52" y2="1550.4" stroke-width="10.38"/><line x1="558.52" y1="1550.4" x2="560.69" y2="1550.3" stroke-width="10.46"/><line x1="560.69" y1="1550.3" x2="562.86" y2="1550.2" stroke-width="10.53"/><line x1="562.86" y1="1550.2" x2="565.03" y2="1550.1" stroke-width="10.6"/><line x1="565.03" y1="1550.1" x2="567.2" y2="1550" stroke-width="10.67"/><line x1="567.2" y1="1550" x2="569.27" y2="1549.83" stroke-width="10.73"/><line x1="569.27" y1="1549.83" x2="571.33" y2="1549.67" stroke-width="10.8"/><line x1="571.33" y1="1549.67" x2="573.4" y2="1549.5" stroke-width="10.87"/><line x1="573.4" y1="1549.5" x2="575.47" y2="1549.33" stroke-width="10.93"/><line x1="575.47" y1="1549.33" x2="577.53" y2="1549.17" stroke-width="11"/><line x1="577.53" y1="1549.17" x2="579.6" y2="1549" stroke-width="11.07"/><line x1="579.6" y1="1549" x2="581.67" y2="1548.83" stroke-width="11.13"/><line x1="581.67" y1="1548.83" x2="583.73" y2="1548.67" stroke-width="11.2"/><line x1="583.73" y1="1548.67" x2="585.8" y2="1548.5" stroke-width="11.27"/><line x1="585.8" y1="1548.5" x2="587.87" y2="1548.5" stroke-width="11.3"/><line x1="587.87" y1="1548.5" x2="589.93" y2="1548.5" stroke-width="11.3"/><line x1="589.93" y1="1548.5" x2="592" y2="1548.5" stroke-width="11.3"/></g>
<rect x="74" y="1505" width="538.9" height="68" fill="none" stroke="#000" stroke-width="2"/>
<line x1="253.1" y1="1504.5" x2="253.1" y2="1573" stroke="#000" stroke-width="2"/>
<line x1="432.4" y1="1503" x2="432.4" y2="1573" stroke="#000" stroke-width="2"/>
</g>
<text x="7" y="1539.7" font-size="17" letter-spacing="0.4" fill="#000">LC3B-I</text>
<text x="0.8" y="1561.5" font-size="17" letter-spacing="0.45" fill="#000">LC3B-II</text>
<text x="626.2" y="1539.4" font-size="17.4" textLength="57.8" lengthAdjust="spacingAndGlyphs" fill="#000">-17 kDa</text>
<text x="626.2" y="1563.2" font-size="17.4" textLength="57.8" lengthAdjust="spacingAndGlyphs" fill="#000">-15 kDa</text>
</svg></body></html>
